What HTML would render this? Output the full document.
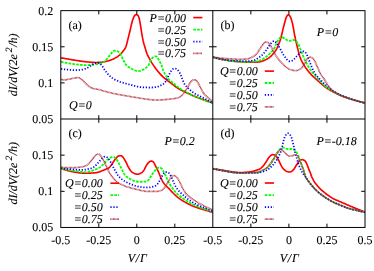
<!DOCTYPE html>
<html><head><meta charset="utf-8"><title>dI/dV vs V/Γ — four-panel chart</title>
<style>html,body{margin:0;padding:0;background:#fff;}body{width:374px;height:271px;overflow:hidden;position:relative;font-family:"Liberation Serif",serif;}</style>
</head><body>
<svg width="374" height="271" viewBox="0 0 374 271" style="position:absolute;left:0;top:0">
<defs>
<clipPath id="cpa"><rect x="60.8" y="10.65" width="152.0" height="108.35"/></clipPath>
<clipPath id="cpb"><rect x="212.8" y="10.65" width="152.2" height="108.35"/></clipPath>
<clipPath id="cpc"><rect x="60.8" y="119.0" width="152.0" height="108.44999999999999"/></clipPath>
<clipPath id="cpd"><rect x="212.8" y="119.0" width="152.2" height="108.44999999999999"/></clipPath>
</defs>
<g clip-path="url(#cpa)" fill="none" stroke-linecap="butt" stroke-linejoin="round">
<path d="M61.00,57.80 L61.50,57.89 L62.00,57.98 L62.50,58.08 L63.00,58.17 L63.50,58.26 L64.00,58.35 L64.50,58.44 L65.00,58.52 L65.50,58.61 L66.00,58.70 L66.50,58.79 L67.00,58.87 L67.50,58.96 L68.00,59.05 L68.50,59.14 L69.00,59.22 L69.50,59.31 L70.00,59.39 L70.50,59.48 L71.00,59.57 L71.50,59.65 L72.00,59.74 L72.50,59.82 L73.00,59.90 L73.50,59.99 L74.00,60.07 L74.50,60.15 L75.00,60.23 L75.50,60.31 L76.00,60.39 L76.50,60.47 L77.00,60.54 L77.50,60.62 L78.00,60.70 L78.50,60.78 L79.00,60.85 L79.50,60.93 L80.00,61.00 L80.50,61.08 L81.00,61.15 L81.50,61.23 L82.00,61.30 L82.50,61.37 L83.00,61.44 L83.50,61.50 L84.00,61.57 L84.50,61.63 L85.00,61.68 L85.50,61.74 L86.00,61.79 L86.50,61.85 L87.00,61.90 L87.50,61.95 L88.00,61.99 L88.50,62.04 L89.00,62.09 L89.50,62.13 L90.00,62.17 L90.50,62.22 L91.00,62.26 L91.50,62.30 L92.00,62.34 L92.50,62.37 L93.00,62.40 L93.50,62.42 L94.00,62.44 L94.50,62.45 L95.00,62.46 L95.50,62.47 L96.00,62.47 L96.50,62.46 L97.00,62.46 L97.50,62.45 L98.00,62.43 L98.50,62.42 L99.00,62.40 L99.50,62.38 L100.00,62.34 L100.50,62.30 L101.00,62.25 L101.50,62.20 L102.00,62.13 L102.50,62.06 L103.00,61.99 L103.50,61.91 L104.00,61.82 L104.50,61.73 L105.00,61.64 L105.50,61.54 L106.00,61.43 L106.50,61.32 L107.00,61.19 L107.50,61.06 L108.00,60.92 L108.50,60.77 L109.00,60.62 L109.50,60.46 L110.00,60.29 L110.50,60.12 L111.00,59.95 L111.50,59.76 L112.00,59.57 L112.50,59.36 L113.00,59.13 L113.50,58.89 L114.00,58.64 L114.50,58.38 L115.00,58.11 L115.50,57.84 L116.00,57.55 L116.50,57.26 L117.00,56.95 L117.50,56.62 L118.00,56.26 L118.50,55.88 L119.00,55.48 L119.50,55.06 L120.00,54.63 L120.50,54.18 L121.00,53.71 L121.50,53.18 L122.00,52.59 L122.50,51.95 L123.00,51.29 L123.50,50.61 L124.00,49.94 L124.50,49.30 L125.00,48.59 L125.50,47.69 L126.00,46.48 L126.50,44.84 L127.00,42.92 L127.50,40.90 L128.00,38.88 L128.50,36.86 L129.00,34.83 L129.50,32.80 L130.00,30.70 L130.50,28.53 L131.00,26.35 L131.50,24.22 L132.00,22.24 L132.50,20.52 L133.00,19.04 L133.50,17.76 L134.00,16.68 L134.50,15.86 L135.00,15.27 L135.50,14.89 L136.00,14.67 L136.50,14.60 L137.00,14.73 L137.50,15.03 L138.00,15.52 L138.50,16.42 L139.00,17.83 L139.50,19.82 L140.00,22.35 L140.50,25.35 L141.00,28.60 L141.50,31.79 L142.00,34.80 L142.50,37.69 L143.00,40.20 L143.50,42.28 L144.00,44.14 L144.50,45.84 L145.00,47.48 L145.50,49.13 L146.00,50.80 L146.50,52.40 L147.00,53.80 L147.50,54.92 L148.00,55.92 L148.50,56.87 L149.00,57.80 L149.50,58.73 L150.00,59.65 L150.50,60.57 L151.00,61.45 L151.50,62.31 L152.00,63.12 L152.50,63.90 L153.00,64.66 L153.50,65.40 L154.00,66.13 L154.50,66.84 L155.00,67.54 L155.50,68.23 L156.00,68.90 L156.50,69.56 L157.00,70.20 L157.50,70.83 L158.00,71.45 L158.50,72.06 L159.00,72.65 L159.50,73.23 L160.00,73.79 L160.50,74.34 L161.00,74.87 L161.50,75.40 L162.00,75.91 L162.50,76.40 L163.00,76.87 L163.50,77.32 L164.00,77.75 L164.50,78.16 L165.00,78.56 L165.50,78.96 L166.00,79.36 L166.50,79.75 L167.00,80.14 L167.50,80.52 L168.00,80.90 L168.50,81.27 L169.00,81.65 L169.50,82.02 L170.00,82.39 L170.50,82.76 L171.00,83.13 L171.50,83.50 L172.00,83.88 L172.50,84.27 L173.00,84.67 L173.50,85.07 L174.00,85.47 L174.50,85.86 L175.00,86.25 L175.50,86.63 L176.00,87.00 L176.50,87.35 L177.00,87.69 L177.50,88.02 L178.00,88.34 L178.50,88.64 L179.00,88.94 L179.50,89.23 L180.00,89.51 L180.50,89.78 L181.00,90.04 L181.50,90.30 L182.00,90.56 L182.50,90.80 L183.00,91.05 L183.50,91.29 L184.00,91.53 L184.50,91.76 L185.00,91.99 L185.50,92.23 L186.00,92.46 L186.50,92.69 L187.00,92.93 L187.50,93.16 L188.00,93.40 L188.50,93.63 L189.00,93.86 L189.50,94.10 L190.00,94.33 L190.50,94.56 L191.00,94.79 L191.50,95.02 L192.00,95.24 L192.50,95.46 L193.00,95.68 L193.50,95.90 L194.00,96.12 L194.50,96.33 L195.00,96.53 L195.50,96.73 L196.00,96.93 L196.50,97.12 L197.00,97.31 L197.50,97.50 L198.00,97.69 L198.50,97.88 L199.00,98.06 L199.50,98.25 L200.00,98.44 L200.50,98.63 L201.00,98.81 L201.50,99.00 L202.00,99.19 L202.50,99.37 L203.00,99.56 L203.50,99.74 L204.00,99.93 L204.50,100.11 L205.00,100.30 L205.50,100.48 L206.00,100.67 L206.50,100.85 L207.00,101.03 L207.50,101.22 L208.00,101.40 L208.50,101.58 L209.00,101.76 L209.50,101.94 L210.00,102.12 L210.50,102.30 L211.00,102.48 L211.50,102.66 L212.00,102.84 L212.50,103.02 L213.00,103.20" stroke="#ff0000" stroke-width="1.65"/>
<path d="M61.00,61.70 L61.50,61.82 L62.00,61.93 L62.50,62.04 L63.00,62.15 L63.50,62.26 L64.00,62.36 L64.50,62.47 L65.00,62.57 L65.50,62.67 L66.00,62.77 L66.50,62.87 L67.00,62.96 L67.50,63.05 L68.00,63.15 L68.50,63.24 L69.00,63.32 L69.50,63.41 L70.00,63.50 L70.50,63.58 L71.00,63.67 L71.50,63.75 L72.00,63.83 L72.50,63.91 L73.00,63.98 L73.50,64.05 L74.00,64.12 L74.50,64.19 L75.00,64.26 L75.50,64.32 L76.00,64.38 L76.50,64.44 L77.00,64.49 L77.50,64.55 L78.00,64.60 L78.50,64.65 L79.00,64.70 L79.50,64.75 L80.00,64.79 L80.50,64.83 L81.00,64.88 L81.50,64.92 L82.00,64.95 L82.50,64.98 L83.00,65.01 L83.50,65.03 L84.00,65.05 L84.50,65.06 L85.00,65.07 L85.50,65.08 L86.00,65.08 L86.50,65.08 L87.00,65.07 L87.50,65.06 L88.00,65.05 L88.50,65.04 L89.00,65.02 L89.50,65.00 L90.00,64.98 L90.50,64.96 L91.00,64.93 L91.50,64.90 L92.00,64.87 L92.50,64.82 L93.00,64.77 L93.50,64.71 L94.00,64.64 L94.50,64.56 L95.00,64.48 L95.50,64.40 L96.00,64.30 L96.50,64.21 L97.00,64.11 L97.50,64.01 L98.00,63.91 L98.50,63.80 L99.00,63.70 L99.50,63.59 L100.00,63.46 L100.50,63.31 L101.00,63.14 L101.50,62.95 L102.00,62.74 L102.50,62.50 L103.00,62.25 L103.50,61.96 L104.00,61.64 L104.50,61.27 L105.00,60.87 L105.50,60.43 L106.00,59.94 L106.50,59.40 L107.00,58.82 L107.50,58.20 L108.00,57.58 L108.50,56.95 L109.00,56.31 L109.50,55.68 L110.00,55.05 L110.50,54.43 L111.00,53.80 L111.50,53.18 L112.00,52.57 L112.50,51.97 L113.00,51.39 L113.50,50.99 L114.00,50.80 L114.50,50.74 L115.00,50.77 L115.50,50.80 L116.00,50.83 L116.50,50.92 L117.00,51.05 L117.50,51.25 L118.00,51.53 L118.50,51.90 L119.00,52.35 L119.50,52.90 L120.00,53.57 L120.50,54.35 L121.00,55.26 L121.50,56.25 L122.00,57.28 L122.50,58.32 L123.00,59.33 L123.50,60.27 L124.00,61.22 L124.50,62.16 L125.00,63.06 L125.50,63.91 L126.00,64.67 L126.50,65.32 L127.00,65.86 L127.50,66.30 L128.00,66.68 L128.50,67.00 L129.00,67.30 L129.50,67.59 L130.00,67.87 L130.50,68.15 L131.00,68.42 L131.50,68.69 L132.00,68.95 L132.50,69.20 L133.00,69.45 L133.50,69.69 L134.00,69.92 L134.50,70.14 L135.00,70.35 L135.50,70.54 L136.00,70.71 L136.50,70.87 L137.00,71.00 L137.50,71.09 L138.00,71.13 L138.50,71.12 L139.00,71.07 L139.50,70.98 L140.00,70.86 L140.50,70.71 L141.00,70.53 L141.50,70.33 L142.00,70.11 L142.50,69.88 L143.00,69.65 L143.50,69.40 L144.00,69.12 L144.50,68.82 L145.00,68.50 L145.50,68.16 L146.00,67.80 L146.50,67.42 L147.00,66.98 L147.50,66.49 L148.00,65.92 L148.50,65.26 L149.00,64.36 L149.50,63.25 L150.00,62.07 L150.50,60.96 L151.00,60.03 L151.50,59.25 L152.00,58.54 L152.50,57.93 L153.00,57.40 L153.50,56.98 L154.00,56.67 L154.50,56.47 L155.00,56.38 L155.50,56.39 L156.00,56.49 L156.50,56.69 L157.00,57.06 L157.50,57.63 L158.00,58.45 L158.50,59.35 L159.00,60.28 L159.50,61.23 L160.00,62.18 L160.50,63.15 L161.00,64.14 L161.50,65.16 L162.00,66.26 L162.50,68.33 L163.00,69.89 L163.50,71.06 L164.00,72.15 L164.50,73.17 L165.00,74.11 L165.50,74.97 L166.00,75.75 L166.50,76.52 L167.00,77.28 L167.50,78.02 L168.00,78.70 L168.50,79.30 L169.00,79.80 L169.50,80.23 L170.00,80.63 L170.50,81.01 L171.00,81.38 L171.50,81.75 L172.00,82.12 L172.50,82.50 L173.00,82.90 L173.50,83.31 L174.00,83.76 L174.50,84.24 L175.00,84.71 L175.50,85.18 L176.00,85.60 L176.50,85.99 L177.00,86.38 L177.50,86.75 L178.00,87.12 L178.50,87.48 L179.00,87.83 L179.50,88.18 L180.00,88.51 L180.50,88.84 L181.00,89.17 L181.50,89.48 L182.00,89.79 L182.50,90.09 L183.00,90.39 L183.50,90.68 L184.00,90.96 L184.50,91.24 L185.00,91.51 L185.50,91.78 L186.00,92.04 L186.50,92.30 L187.00,92.56 L187.50,92.82 L188.00,93.07 L188.50,93.33 L189.00,93.58 L189.50,93.83 L190.00,94.08 L190.50,94.33 L191.00,94.58 L191.50,94.82 L192.00,95.06 L192.50,95.29 L193.00,95.53 L193.50,95.75 L194.00,95.98 L194.50,96.20 L195.00,96.41 L195.50,96.62 L196.00,96.82 L196.50,97.02 L197.00,97.22 L197.50,97.41 L198.00,97.60 L198.50,97.79 L199.00,97.98 L199.50,98.18 L200.00,98.37 L200.50,98.56 L201.00,98.75 L201.50,98.94 L202.00,99.13 L202.50,99.32 L203.00,99.51 L203.50,99.70 L204.00,99.89 L204.50,100.08 L205.00,100.27 L205.50,100.45 L206.00,100.64 L206.50,100.83 L207.00,101.01 L207.50,101.20 L208.00,101.39 L208.50,101.57 L209.00,101.75 L209.50,101.94 L210.00,102.12 L210.50,102.30 L211.00,102.48 L211.50,102.66 L212.00,102.84 L212.50,103.02 L213.00,103.20" stroke="#00ff00" stroke-width="1.8" stroke-dasharray="2.65 1.2"/>
<path d="M61.00,68.80 L61.50,68.89 L62.00,68.98 L62.50,69.06 L63.00,69.14 L63.50,69.21 L64.00,69.28 L64.50,69.35 L65.00,69.41 L65.50,69.47 L66.00,69.53 L66.50,69.59 L67.00,69.64 L67.50,69.69 L68.00,69.73 L68.50,69.78 L69.00,69.82 L69.50,69.87 L70.00,69.91 L70.50,69.95 L71.00,69.98 L71.50,70.02 L72.00,70.05 L72.50,70.08 L73.00,70.10 L73.50,70.12 L74.00,70.14 L74.50,70.15 L75.00,70.15 L75.50,70.15 L76.00,70.14 L76.50,70.13 L77.00,70.12 L77.50,70.10 L78.00,70.08 L78.50,70.05 L79.00,70.01 L79.50,69.98 L80.00,69.93 L80.50,69.89 L81.00,69.83 L81.50,69.78 L82.00,69.70 L82.50,69.60 L83.00,69.48 L83.50,69.34 L84.00,69.18 L84.50,69.01 L85.00,68.83 L85.50,68.63 L86.00,68.43 L86.50,68.21 L87.00,67.98 L87.50,67.75 L88.00,67.50 L88.50,67.21 L89.00,66.90 L89.50,66.56 L90.00,66.22 L90.50,65.87 L91.00,65.51 L91.50,65.16 L92.00,64.82 L92.50,64.49 L93.00,64.18 L93.50,63.90 L94.00,63.65 L94.50,63.45 L95.00,63.28 L95.50,63.14 L96.00,63.03 L96.50,62.96 L97.00,62.92 L97.50,62.90 L98.00,62.92 L98.50,63.01 L99.00,63.17 L99.50,63.39 L100.00,63.70 L100.50,64.07 L101.00,64.53 L101.50,65.06 L102.00,65.68 L102.50,66.40 L103.00,67.18 L103.50,68.00 L104.00,68.83 L104.50,69.65 L105.00,70.43 L105.50,71.14 L106.00,71.78 L106.50,72.40 L107.00,73.01 L107.50,73.61 L108.00,74.19 L108.50,74.74 L109.00,75.26 L109.50,75.73 L110.00,76.17 L110.50,76.59 L111.00,76.99 L111.50,77.38 L112.00,77.76 L112.50,78.12 L113.00,78.46 L113.50,78.79 L114.00,79.10 L114.50,79.39 L115.00,79.66 L115.50,79.91 L116.00,80.15 L116.50,80.37 L117.00,80.60 L117.50,80.82 L118.00,81.04 L118.50,81.25 L119.00,81.46 L119.50,81.65 L120.00,81.85 L120.50,82.03 L121.00,82.20 L121.50,82.35 L122.00,82.50 L122.50,82.64 L123.00,82.78 L123.50,82.91 L124.00,83.05 L124.50,83.19 L125.00,83.32 L125.50,83.46 L126.00,83.60 L126.50,83.73 L127.00,83.87 L127.50,84.00 L128.00,84.14 L128.50,84.27 L129.00,84.41 L129.50,84.54 L130.00,84.67 L130.50,84.81 L131.00,84.94 L131.50,85.07 L132.00,85.21 L132.50,85.34 L133.00,85.47 L133.50,85.60 L134.00,85.73 L134.50,85.86 L135.00,85.99 L135.50,86.12 L136.00,86.25 L136.50,86.37 L137.00,86.50 L137.50,86.62 L138.00,86.73 L138.50,86.82 L139.00,86.91 L139.50,86.99 L140.00,87.06 L140.50,87.12 L141.00,87.17 L141.50,87.22 L142.00,87.26 L142.50,87.29 L143.00,87.32 L143.50,87.35 L144.00,87.37 L144.50,87.40 L145.00,87.42 L145.50,87.43 L146.00,87.45 L146.50,87.47 L147.00,87.49 L147.50,87.51 L148.00,87.53 L148.50,87.54 L149.00,87.55 L149.50,87.56 L150.00,87.56 L150.50,87.56 L151.00,87.54 L151.50,87.53 L152.00,87.51 L152.50,87.48 L153.00,87.44 L153.50,87.40 L154.00,87.35 L154.50,87.29 L155.00,87.22 L155.50,87.15 L156.00,87.06 L156.50,86.97 L157.00,86.87 L157.50,86.75 L158.00,86.60 L158.50,86.43 L159.00,86.22 L159.50,86.00 L160.00,85.77 L160.50,85.54 L161.00,85.30 L161.50,85.06 L162.00,84.79 L162.50,84.51 L163.00,84.19 L163.50,83.85 L164.00,83.46 L164.50,82.98 L165.00,82.39 L165.50,81.69 L166.00,80.86 L166.50,79.91 L167.00,78.91 L167.50,77.90 L168.00,76.90 L168.50,75.90 L169.00,74.92 L169.50,73.94 L170.00,72.96 L170.50,72.00 L171.00,71.13 L171.50,70.43 L172.00,69.87 L172.50,69.40 L173.00,69.04 L173.50,68.81 L174.00,68.67 L174.50,68.61 L175.00,68.59 L175.50,68.63 L176.00,68.74 L176.50,68.94 L177.00,69.25 L177.50,69.67 L178.00,70.23 L178.50,70.90 L179.00,71.67 L179.50,72.50 L180.00,73.38 L180.50,74.39 L181.00,75.61 L181.50,76.91 L182.00,78.22 L182.50,79.51 L183.00,80.78 L183.50,82.00 L184.00,83.09 L184.50,84.01 L185.00,84.79 L185.50,85.46 L186.00,86.06 L186.50,86.62 L187.00,87.16 L187.50,87.69 L188.00,88.20 L188.50,88.68 L189.00,89.15 L189.50,89.59 L190.00,90.01 L190.50,90.44 L191.00,90.86 L191.50,91.26 L192.00,91.64 L192.50,92.00 L193.00,92.34 L193.50,92.68 L194.00,93.01 L194.50,93.33 L195.00,93.64 L195.50,93.94 L196.00,94.22 L196.50,94.50 L197.00,94.75 L197.50,95.01 L198.00,95.27 L198.50,95.53 L199.00,95.78 L199.50,96.04 L200.00,96.29 L200.50,96.55 L201.00,96.80 L201.50,97.05 L202.00,97.30 L202.50,97.55 L203.00,97.80 L203.50,98.05 L204.00,98.30 L204.50,98.55 L205.00,98.80 L205.50,99.05 L206.00,99.30 L206.50,99.55 L207.00,99.80 L207.50,100.05 L208.00,100.30 L208.50,100.55 L209.00,100.80 L209.50,101.05 L210.00,101.30 L210.50,101.55 L211.00,101.80 L211.50,102.05 L212.00,102.30 L212.50,102.55 L213.00,102.80" stroke="#0000ff" stroke-width="1.75" stroke-dasharray="1.25 1.72"/>
<path d="M61.00,79.40 L61.50,79.51 L62.00,79.61 L62.50,79.71 L63.00,79.79 L63.50,79.86 L64.00,79.91 L64.50,79.93 L65.00,79.93 L65.50,79.90 L66.00,79.84 L66.50,79.74 L67.00,79.64 L67.50,79.53 L68.00,79.42 L68.50,79.31 L69.00,79.20 L69.50,79.09 L70.00,78.98 L70.50,78.87 L71.00,78.76 L71.50,78.66 L72.00,78.56 L72.50,78.46 L73.00,78.36 L73.50,78.26 L74.00,78.16 L74.50,78.07 L75.00,77.97 L75.50,77.88 L76.00,77.79 L76.50,77.70 L77.00,77.63 L77.50,77.62 L78.00,77.65 L78.50,77.74 L79.00,77.88 L79.50,78.08 L80.00,78.34 L80.50,78.65 L81.00,79.00 L81.50,79.37 L82.00,79.77 L82.50,80.20 L83.00,80.64 L83.50,81.11 L84.00,81.59 L84.50,82.09 L85.00,82.60 L85.50,83.11 L86.00,83.62 L86.50,84.11 L87.00,84.59 L87.50,85.06 L88.00,85.51 L88.50,85.94 L89.00,86.35 L89.50,86.73 L90.00,87.06 L90.50,87.37 L91.00,87.63 L91.50,87.87 L92.00,88.07 L92.50,88.25 L93.00,88.41 L93.50,88.55 L94.00,88.68 L94.50,88.79 L95.00,88.88 L95.50,88.96 L96.00,89.04 L96.50,89.11 L97.00,89.18 L97.50,89.27 L98.00,89.36 L98.50,89.47 L99.00,89.60 L99.50,89.75 L100.00,89.90 L100.50,90.05 L101.00,90.20 L101.50,90.34 L102.00,90.48 L102.50,90.62 L103.00,90.76 L103.50,90.91 L104.00,91.05 L104.50,91.19 L105.00,91.33 L105.50,91.47 L106.00,91.61 L106.50,91.75 L107.00,91.88 L107.50,92.02 L108.00,92.15 L108.50,92.29 L109.00,92.42 L109.50,92.54 L110.00,92.67 L110.50,92.79 L111.00,92.91 L111.50,93.03 L112.00,93.15 L112.50,93.26 L113.00,93.37 L113.50,93.47 L114.00,93.58 L114.50,93.68 L115.00,93.79 L115.50,93.89 L116.00,93.99 L116.50,94.08 L117.00,94.18 L117.50,94.28 L118.00,94.37 L118.50,94.46 L119.00,94.56 L119.50,94.65 L120.00,94.74 L120.50,94.83 L121.00,94.92 L121.50,95.01 L122.00,95.10 L122.50,95.19 L123.00,95.28 L123.50,95.37 L124.00,95.46 L124.50,95.55 L125.00,95.63 L125.50,95.72 L126.00,95.81 L126.50,95.90 L127.00,95.98 L127.50,96.07 L128.00,96.16 L128.50,96.25 L129.00,96.33 L129.50,96.42 L130.00,96.51 L130.50,96.59 L131.00,96.68 L131.50,96.76 L132.00,96.85 L132.50,96.94 L133.00,97.02 L133.50,97.11 L134.00,97.19 L134.50,97.28 L135.00,97.36 L135.50,97.45 L136.00,97.53 L136.50,97.62 L137.00,97.70 L137.50,97.78 L138.00,97.87 L138.50,97.95 L139.00,98.03 L139.50,98.11 L140.00,98.19 L140.50,98.27 L141.00,98.35 L141.50,98.42 L142.00,98.50 L142.50,98.57 L143.00,98.65 L143.50,98.72 L144.00,98.79 L144.50,98.86 L145.00,98.93 L145.50,99.00 L146.00,99.07 L146.50,99.14 L147.00,99.21 L147.50,99.28 L148.00,99.34 L148.50,99.41 L149.00,99.47 L149.50,99.54 L150.00,99.60 L150.50,99.65 L151.00,99.71 L151.50,99.76 L152.00,99.80 L152.50,99.84 L153.00,99.88 L153.50,99.91 L154.00,99.94 L154.50,99.96 L155.00,99.99 L155.50,100.00 L156.00,100.02 L156.50,100.02 L157.00,100.03 L157.50,100.03 L158.00,100.03 L158.50,100.02 L159.00,100.01 L159.50,99.99 L160.00,99.98 L160.50,99.95 L161.00,99.92 L161.50,99.89 L162.00,99.86 L162.50,99.82 L163.00,99.78 L163.50,99.74 L164.00,99.70 L164.50,99.65 L165.00,99.61 L165.50,99.56 L166.00,99.51 L166.50,99.46 L167.00,99.41 L167.50,99.35 L168.00,99.30 L168.50,99.24 L169.00,99.19 L169.50,99.13 L170.00,99.08 L170.50,99.02 L171.00,98.97 L171.50,98.91 L172.00,98.85 L172.50,98.79 L173.00,98.73 L173.50,98.66 L174.00,98.59 L174.50,98.52 L175.00,98.45 L175.50,98.38 L176.00,98.30 L176.50,98.21 L177.00,98.09 L177.50,97.95 L178.00,97.77 L178.50,97.57 L179.00,97.34 L179.50,97.09 L180.00,96.81 L180.50,96.50 L181.00,96.16 L181.50,95.76 L182.00,95.29 L182.50,94.76 L183.00,94.18 L183.50,93.55 L184.00,92.88 L184.50,92.17 L185.00,91.44 L185.50,90.69 L186.00,89.92 L186.50,89.13 L187.00,88.33 L187.50,87.50 L188.00,86.60 L188.50,85.68 L189.00,84.74 L189.50,83.82 L190.00,82.96 L190.50,82.20 L191.00,81.58 L191.50,81.08 L192.00,80.66 L192.50,80.30 L193.00,80.02 L193.50,79.85 L194.00,79.77 L194.50,79.78 L195.00,79.85 L195.50,79.99 L196.00,80.24 L196.50,80.65 L197.00,81.25 L197.50,82.04 L198.00,82.88 L198.50,83.76 L199.00,84.68 L199.50,85.62 L200.00,86.59 L200.50,87.61 L201.00,88.65 L201.50,89.67 L202.00,90.65 L202.50,91.55 L203.00,92.37 L203.50,93.11 L204.00,93.79 L204.50,94.39 L205.00,94.92 L205.50,95.39 L206.00,95.83 L206.50,96.27 L207.00,96.71 L207.50,97.14 L208.00,97.58 L208.50,98.02 L209.00,98.45 L209.50,98.89 L210.00,99.32 L210.50,99.75 L211.00,100.19 L211.50,100.61 L212.00,100.98 L212.50,101.18 L213.00,101.30" stroke="#b02234" stroke-width="1.7" stroke-dasharray="0.75 0.55"/>
</g>
<g clip-path="url(#cpb)" fill="none" stroke-linecap="butt" stroke-linejoin="round">
<path d="M213.00,57.20 L213.50,57.34 L214.00,57.47 L214.50,57.60 L215.00,57.73 L215.50,57.86 L216.00,57.99 L216.50,58.11 L217.00,58.23 L217.50,58.35 L218.00,58.47 L218.50,58.59 L219.00,58.71 L219.50,58.82 L220.00,58.93 L220.50,59.04 L221.00,59.15 L221.50,59.25 L222.00,59.36 L222.50,59.46 L223.00,59.56 L223.50,59.66 L224.00,59.76 L224.50,59.85 L225.00,59.94 L225.50,60.04 L226.00,60.13 L226.50,60.21 L227.00,60.30 L227.50,60.38 L228.00,60.47 L228.50,60.55 L229.00,60.62 L229.50,60.70 L230.00,60.77 L230.50,60.84 L231.00,60.91 L231.50,60.98 L232.00,61.04 L232.50,61.11 L233.00,61.17 L233.50,61.22 L234.00,61.28 L234.50,61.33 L235.00,61.38 L235.50,61.43 L236.00,61.48 L236.50,61.53 L237.00,61.57 L237.50,61.61 L238.00,61.65 L238.50,61.69 L239.00,61.73 L239.50,61.77 L240.00,61.80 L240.50,61.84 L241.00,61.87 L241.50,61.90 L242.00,61.92 L242.50,61.95 L243.00,61.98 L243.50,62.00 L244.00,62.02 L244.50,62.04 L245.00,62.06 L245.50,62.08 L246.00,62.09 L246.50,62.11 L247.00,62.12 L247.50,62.13 L248.00,62.14 L248.50,62.15 L249.00,62.16 L249.50,62.16 L250.00,62.17 L250.50,62.17 L251.00,62.18 L251.50,62.18 L252.00,62.19 L252.50,62.19 L253.00,62.20 L253.50,62.20 L254.00,62.20 L254.50,62.20 L255.00,62.19 L255.50,62.17 L256.00,62.15 L256.50,62.13 L257.00,62.10 L257.50,62.06 L258.00,62.02 L258.50,61.98 L259.00,61.92 L259.50,61.84 L260.00,61.74 L260.50,61.63 L261.00,61.50 L261.50,61.36 L262.00,61.20 L262.50,61.04 L263.00,60.86 L263.50,60.68 L264.00,60.49 L264.50,60.30 L265.00,60.10 L265.50,59.87 L266.00,59.62 L266.50,59.35 L267.00,59.06 L267.50,58.75 L268.00,58.43 L268.50,58.09 L269.00,57.73 L269.50,57.35 L270.00,56.96 L270.50,56.53 L271.00,56.06 L271.50,55.57 L272.00,55.04 L272.50,54.50 L273.00,53.93 L273.50,53.35 L274.00,52.76 L274.50,52.13 L275.00,51.46 L275.50,50.73 L276.00,49.95 L276.50,49.12 L277.00,48.21 L277.50,47.19 L278.00,46.03 L278.50,44.79 L279.00,43.50 L279.50,42.17 L280.00,40.75 L280.50,39.20 L281.00,37.46 L281.50,35.52 L282.00,33.46 L282.50,31.32 L283.00,29.18 L283.50,27.09 L284.00,25.12 L284.50,23.23 L285.00,21.42 L285.50,19.70 L286.00,18.10 L286.50,16.81 L287.00,15.91 L287.50,15.27 L288.00,14.89 L288.50,14.81 L289.00,15.03 L289.50,15.50 L290.00,16.19 L290.50,17.14 L291.00,18.37 L291.50,19.87 L292.00,21.63 L292.50,23.67 L293.00,25.99 L293.50,28.65 L294.00,31.53 L294.50,34.41 L295.00,37.05 L295.50,39.34 L296.00,41.53 L296.50,43.66 L297.00,45.76 L297.50,47.85 L298.00,49.91 L298.50,51.90 L299.00,53.79 L299.50,55.54 L300.00,57.08 L300.50,58.42 L301.00,59.60 L301.50,60.64 L302.00,61.60 L302.50,62.50 L303.00,63.38 L303.50,64.26 L304.00,65.12 L304.50,65.94 L305.00,66.73 L305.50,67.46 L306.00,68.15 L306.50,68.84 L307.00,69.51 L307.50,70.18 L308.00,70.82 L308.50,71.45 L309.00,72.06 L309.50,72.65 L310.00,73.24 L310.50,73.81 L311.00,74.37 L311.50,74.91 L312.00,75.42 L312.50,75.88 L313.00,76.34 L313.50,76.80 L314.00,77.25 L314.50,77.70 L315.00,78.14 L315.50,78.59 L316.00,79.04 L316.50,79.48 L317.00,79.93 L317.50,80.37 L318.00,80.81 L318.50,81.26 L319.00,81.70 L319.50,82.14 L320.00,82.58 L320.50,83.02 L321.00,83.46 L321.50,83.89 L322.00,84.33 L322.50,84.76 L323.00,85.19 L323.50,85.61 L324.00,86.04 L324.50,86.44 L325.00,86.84 L325.50,87.22 L326.00,87.59 L326.50,87.94 L327.00,88.29 L327.50,88.63 L328.00,88.95 L328.50,89.27 L329.00,89.58 L329.50,89.88 L330.00,90.18 L330.50,90.47 L331.00,90.75 L331.50,91.03 L332.00,91.30 L332.50,91.57 L333.00,91.83 L333.50,92.10 L334.00,92.36 L334.50,92.61 L335.00,92.87 L335.50,93.13 L336.00,93.38 L336.50,93.63 L337.00,93.87 L337.50,94.12 L338.00,94.35 L338.50,94.59 L339.00,94.82 L339.50,95.05 L340.00,95.27 L340.50,95.48 L341.00,95.70 L341.50,95.90 L342.00,96.10 L342.50,96.29 L343.00,96.48 L343.50,96.66 L344.00,96.83 L344.50,97.00 L345.00,97.17 L345.50,97.34 L346.00,97.51 L346.50,97.68 L347.00,97.84 L347.50,98.01 L348.00,98.17 L348.50,98.33 L349.00,98.49 L349.50,98.65 L350.00,98.81 L350.50,98.96 L351.00,99.11 L351.50,99.27 L352.00,99.42 L352.50,99.57 L353.00,99.71 L353.50,99.86 L354.00,100.00 L354.50,100.14 L355.00,100.28 L355.50,100.43 L356.00,100.57 L356.50,100.71 L357.00,100.85 L357.50,100.99 L358.00,101.13 L358.50,101.27 L359.00,101.41 L359.50,101.55 L360.00,101.68 L360.50,101.82 L361.00,101.95 L361.50,102.09 L362.00,102.22 L362.50,102.36 L363.00,102.49 L363.50,102.62 L364.00,102.75 L364.50,102.87 L365.00,103.00" stroke="#ff0000" stroke-width="1.65"/>
<path d="M213.00,57.20 L213.50,57.34 L214.00,57.47 L214.50,57.60 L215.00,57.73 L215.50,57.86 L216.00,57.98 L216.50,58.11 L217.00,58.23 L217.50,58.35 L218.00,58.47 L218.50,58.58 L219.00,58.70 L219.50,58.81 L220.00,58.92 L220.50,59.03 L221.00,59.14 L221.50,59.25 L222.00,59.35 L222.50,59.46 L223.00,59.56 L223.50,59.66 L224.00,59.76 L224.50,59.86 L225.00,59.95 L225.50,60.05 L226.00,60.14 L226.50,60.23 L227.00,60.32 L227.50,60.40 L228.00,60.49 L228.50,60.57 L229.00,60.64 L229.50,60.72 L230.00,60.79 L230.50,60.86 L231.00,60.93 L231.50,60.99 L232.00,61.06 L232.50,61.11 L233.00,61.17 L233.50,61.22 L234.00,61.27 L234.50,61.32 L235.00,61.36 L235.50,61.40 L236.00,61.44 L236.50,61.48 L237.00,61.51 L237.50,61.55 L238.00,61.58 L238.50,61.61 L239.00,61.63 L239.50,61.66 L240.00,61.68 L240.50,61.71 L241.00,61.73 L241.50,61.74 L242.00,61.76 L242.50,61.77 L243.00,61.79 L243.50,61.80 L244.00,61.81 L244.50,61.82 L245.00,61.82 L245.50,61.82 L246.00,61.82 L246.50,61.81 L247.00,61.81 L247.50,61.81 L248.00,61.80 L248.50,61.79 L249.00,61.78 L249.50,61.77 L250.00,61.75 L250.50,61.73 L251.00,61.71 L251.50,61.68 L252.00,61.65 L252.50,61.62 L253.00,61.59 L253.50,61.55 L254.00,61.51 L254.50,61.47 L255.00,61.42 L255.50,61.38 L256.00,61.33 L256.50,61.28 L257.00,61.21 L257.50,61.12 L258.00,61.00 L258.50,60.87 L259.00,60.71 L259.50,60.54 L260.00,60.36 L260.50,60.15 L261.00,59.93 L261.50,59.70 L262.00,59.46 L262.50,59.20 L263.00,58.93 L263.50,58.63 L264.00,58.31 L264.50,57.98 L265.00,57.63 L265.50,57.26 L266.00,56.88 L266.50,56.49 L267.00,56.09 L267.50,55.68 L268.00,55.26 L268.50,54.82 L269.00,54.35 L269.50,53.86 L270.00,53.36 L270.50,52.85 L271.00,52.34 L271.50,51.81 L272.00,51.29 L272.50,50.72 L273.00,50.10 L273.50,49.43 L274.00,48.70 L274.50,47.90 L275.00,47.04 L275.50,46.07 L276.00,44.50 L276.50,43.38 L277.00,42.35 L277.50,41.39 L278.00,40.53 L278.50,39.75 L279.00,39.03 L279.50,38.37 L280.00,37.81 L280.50,37.41 L281.00,37.21 L281.50,37.23 L282.00,37.32 L282.50,37.46 L283.00,37.65 L283.50,37.88 L284.00,38.13 L284.50,38.42 L285.00,38.74 L285.50,39.09 L286.00,39.44 L286.50,39.78 L287.00,40.09 L287.50,40.35 L288.00,40.54 L288.50,40.68 L289.00,40.77 L289.50,40.80 L290.00,40.79 L290.50,40.72 L291.00,40.58 L291.50,40.41 L292.00,40.24 L292.50,40.09 L293.00,40.00 L293.50,39.97 L294.00,40.00 L294.50,40.09 L295.00,40.26 L295.50,40.53 L296.00,40.95 L296.50,41.50 L297.00,42.13 L297.50,42.82 L298.00,43.58 L298.50,44.46 L299.00,45.52 L299.50,46.85 L300.00,48.25 L300.50,49.49 L301.00,50.72 L301.50,51.96 L302.00,53.20 L302.50,54.47 L303.00,55.76 L303.50,57.05 L304.00,58.30 L304.50,59.46 L305.00,60.52 L305.50,61.49 L306.00,62.42 L306.50,63.32 L307.00,64.22 L307.50,65.11 L308.00,65.98 L308.50,66.82 L309.00,67.63 L309.50,68.40 L310.00,69.14 L310.50,69.85 L311.00,70.54 L311.50,71.21 L312.00,71.85 L312.50,72.45 L313.00,73.03 L313.50,73.59 L314.00,74.15 L314.50,74.71 L315.00,75.26 L315.50,75.81 L316.00,76.36 L316.50,76.91 L317.00,77.45 L317.50,78.00 L318.00,78.55 L318.50,79.09 L319.00,79.63 L319.50,80.17 L320.00,80.71 L320.50,81.25 L321.00,81.78 L321.50,82.31 L322.00,82.84 L322.50,83.36 L323.00,83.88 L323.50,84.40 L324.00,84.91 L324.50,85.39 L325.00,85.86 L325.50,86.31 L326.00,86.74 L326.50,87.16 L327.00,87.55 L327.50,87.94 L328.00,88.31 L328.50,88.66 L329.00,89.01 L329.50,89.34 L330.00,89.66 L330.50,89.97 L331.00,90.27 L331.50,90.57 L332.00,90.86 L332.50,91.14 L333.00,91.42 L333.50,91.69 L334.00,91.96 L334.50,92.23 L335.00,92.50 L335.50,92.76 L336.00,93.02 L336.50,93.28 L337.00,93.54 L337.50,93.79 L338.00,94.04 L338.50,94.28 L339.00,94.52 L339.50,94.76 L340.00,94.99 L340.50,95.22 L341.00,95.44 L341.50,95.65 L342.00,95.86 L342.50,96.06 L343.00,96.26 L343.50,96.45 L344.00,96.64 L344.50,96.82 L345.00,97.00 L345.50,97.18 L346.00,97.36 L346.50,97.54 L347.00,97.71 L347.50,97.89 L348.00,98.06 L348.50,98.23 L349.00,98.41 L349.50,98.58 L350.00,98.74 L350.50,98.91 L351.00,99.07 L351.50,99.23 L352.00,99.39 L352.50,99.55 L353.00,99.70 L353.50,99.85 L354.00,100.00 L354.50,100.15 L355.00,100.29 L355.50,100.44 L356.00,100.58 L356.50,100.73 L357.00,100.87 L357.50,101.01 L358.00,101.15 L358.50,101.29 L359.00,101.43 L359.50,101.57 L360.00,101.71 L360.50,101.85 L361.00,101.98 L361.50,102.11 L362.00,102.24 L362.50,102.37 L363.00,102.50 L363.50,102.63 L364.00,102.76 L364.50,102.88 L365.00,103.00" stroke="#00ff00" stroke-width="1.8" stroke-dasharray="2.65 1.2"/>
<path d="M213.00,57.20 L213.50,57.35 L214.00,57.49 L214.50,57.64 L215.00,57.78 L215.50,57.92 L216.00,58.05 L216.50,58.19 L217.00,58.32 L217.50,58.44 L218.00,58.57 L218.50,58.69 L219.00,58.80 L219.50,58.91 L220.00,59.02 L220.50,59.13 L221.00,59.22 L221.50,59.32 L222.00,59.41 L222.50,59.49 L223.00,59.57 L223.50,59.64 L224.00,59.72 L224.50,59.79 L225.00,59.85 L225.50,59.92 L226.00,59.99 L226.50,60.05 L227.00,60.11 L227.50,60.17 L228.00,60.22 L228.50,60.28 L229.00,60.33 L229.50,60.38 L230.00,60.43 L230.50,60.48 L231.00,60.52 L231.50,60.56 L232.00,60.60 L232.50,60.64 L233.00,60.68 L233.50,60.71 L234.00,60.75 L234.50,60.78 L235.00,60.81 L235.50,60.84 L236.00,60.87 L236.50,60.90 L237.00,60.92 L237.50,60.95 L238.00,60.97 L238.50,61.00 L239.00,61.02 L239.50,61.04 L240.00,61.06 L240.50,61.08 L241.00,61.10 L241.50,61.12 L242.00,61.13 L242.50,61.14 L243.00,61.14 L243.50,61.15 L244.00,61.15 L244.50,61.15 L245.00,61.14 L245.50,61.14 L246.00,61.13 L246.50,61.12 L247.00,61.12 L247.50,61.11 L248.00,61.10 L248.50,61.09 L249.00,61.06 L249.50,61.03 L250.00,60.99 L250.50,60.94 L251.00,60.87 L251.50,60.80 L252.00,60.71 L252.50,60.62 L253.00,60.51 L253.50,60.39 L254.00,60.26 L254.50,60.11 L255.00,59.92 L255.50,59.70 L256.00,59.45 L256.50,59.17 L257.00,58.86 L257.50,58.54 L258.00,58.20 L258.50,57.85 L259.00,57.49 L259.50,57.13 L260.00,56.76 L260.50,56.38 L261.00,55.99 L261.50,55.57 L262.00,55.13 L262.50,54.66 L263.00,54.15 L263.50,53.60 L264.00,53.01 L264.50,52.39 L265.00,51.75 L265.50,51.09 L266.00,50.42 L266.50,49.73 L267.00,49.04 L267.50,48.33 L268.00,47.59 L268.50,46.83 L269.00,46.07 L269.50,45.31 L270.00,44.58 L270.50,43.90 L271.00,43.29 L271.50,42.76 L272.00,42.29 L272.50,41.85 L273.00,41.44 L273.50,41.15 L274.00,41.02 L274.50,41.10 L275.00,41.38 L275.50,41.79 L276.00,42.30 L276.50,42.83 L277.00,43.37 L277.50,44.00 L278.00,44.80 L278.50,45.72 L279.00,46.64 L279.50,47.56 L280.00,48.48 L280.50,49.40 L281.00,50.32 L281.50,51.25 L282.00,52.17 L282.50,53.09 L283.00,54.02 L283.50,54.90 L284.00,55.68 L284.50,56.40 L285.00,57.07 L285.50,57.73 L286.00,58.40 L286.50,59.02 L287.00,59.59 L287.50,60.12 L288.00,60.60 L288.50,60.98 L289.00,61.21 L289.50,61.32 L290.00,61.30 L290.50,61.22 L291.00,61.10 L291.50,60.94 L292.00,60.73 L292.50,60.47 L293.00,60.15 L293.50,59.76 L294.00,59.30 L294.50,58.78 L295.00,58.23 L295.50,57.67 L296.00,57.09 L296.50,56.52 L297.00,55.95 L297.50,55.41 L298.00,54.89 L298.50,54.38 L299.00,53.89 L299.50,53.40 L300.00,52.93 L300.50,52.47 L301.00,52.03 L301.50,51.71 L302.00,51.50 L302.50,51.38 L303.00,51.32 L303.50,51.30 L304.00,51.41 L304.50,51.66 L305.00,52.05 L305.50,52.60 L306.00,53.27 L306.50,54.07 L307.00,55.05 L307.50,56.26 L308.00,57.55 L308.50,58.85 L309.00,60.14 L309.50,61.43 L310.00,62.71 L310.50,63.99 L311.00,65.25 L311.50,66.47 L312.00,67.64 L312.50,68.77 L313.00,69.83 L313.50,70.82 L314.00,71.76 L314.50,72.66 L315.00,73.52 L315.50,74.31 L316.00,75.02 L316.50,75.63 L317.00,76.20 L317.50,76.75 L318.00,77.28 L318.50,77.80 L319.00,78.31 L319.50,78.82 L320.00,79.32 L320.50,79.83 L321.00,80.33 L321.50,80.83 L322.00,81.33 L322.50,81.82 L323.00,82.31 L323.50,82.80 L324.00,83.28 L324.50,83.76 L325.00,84.24 L325.50,84.71 L326.00,85.17 L326.50,85.63 L327.00,86.07 L327.50,86.51 L328.00,86.94 L328.50,87.37 L329.00,87.78 L329.50,88.18 L330.00,88.58 L330.50,88.96 L331.00,89.34 L331.50,89.71 L332.00,90.06 L332.50,90.41 L333.00,90.75 L333.50,91.07 L334.00,91.39 L334.50,91.70 L335.00,92.00 L335.50,92.30 L336.00,92.59 L336.50,92.87 L337.00,93.15 L337.50,93.43 L338.00,93.69 L338.50,93.95 L339.00,94.21 L339.50,94.46 L340.00,94.70 L340.50,94.94 L341.00,95.17 L341.50,95.40 L342.00,95.62 L342.50,95.83 L343.00,96.04 L343.50,96.24 L344.00,96.44 L344.50,96.63 L345.00,96.83 L345.50,97.02 L346.00,97.21 L346.50,97.40 L347.00,97.59 L347.50,97.78 L348.00,97.97 L348.50,98.15 L349.00,98.33 L349.50,98.51 L350.00,98.69 L350.50,98.86 L351.00,99.03 L351.50,99.20 L352.00,99.37 L352.50,99.53 L353.00,99.69 L353.50,99.85 L354.00,100.00 L354.50,100.15 L355.00,100.30 L355.50,100.45 L356.00,100.60 L356.50,100.74 L357.00,100.89 L357.50,101.03 L358.00,101.18 L358.50,101.32 L359.00,101.46 L359.50,101.60 L360.00,101.74 L360.50,101.87 L361.00,102.00 L361.50,102.14 L362.00,102.27 L362.50,102.39 L363.00,102.52 L363.50,102.64 L364.00,102.76 L364.50,102.88 L365.00,103.00" stroke="#0000ff" stroke-width="1.75" stroke-dasharray="1.25 1.72"/>
<path d="M213.00,57.00 L213.50,57.09 L214.00,57.17 L214.50,57.25 L215.00,57.33 L215.50,57.41 L216.00,57.49 L216.50,57.56 L217.00,57.64 L217.50,57.71 L218.00,57.77 L218.50,57.84 L219.00,57.89 L219.50,57.95 L220.00,58.00 L220.50,58.05 L221.00,58.10 L221.50,58.14 L222.00,58.19 L222.50,58.23 L223.00,58.27 L223.50,58.32 L224.00,58.36 L224.50,58.40 L225.00,58.44 L225.50,58.48 L226.00,58.52 L226.50,58.56 L227.00,58.60 L227.50,58.64 L228.00,58.68 L228.50,58.71 L229.00,58.75 L229.50,58.79 L230.00,58.83 L230.50,58.86 L231.00,58.90 L231.50,58.93 L232.00,58.97 L232.50,59.00 L233.00,59.03 L233.50,59.07 L234.00,59.10 L234.50,59.13 L235.00,59.16 L235.50,59.18 L236.00,59.21 L236.50,59.22 L237.00,59.24 L237.50,59.26 L238.00,59.27 L238.50,59.28 L239.00,59.28 L239.50,59.29 L240.00,59.30 L240.50,59.30 L241.00,59.30 L241.50,59.30 L242.00,59.28 L242.50,59.26 L243.00,59.23 L243.50,59.20 L244.00,59.17 L244.50,59.13 L245.00,59.10 L245.50,59.06 L246.00,59.01 L246.50,58.94 L247.00,58.87 L247.50,58.79 L248.00,58.70 L248.50,58.59 L249.00,58.46 L249.50,58.30 L250.00,58.11 L250.50,57.90 L251.00,57.67 L251.50,57.42 L252.00,57.16 L252.50,56.89 L253.00,56.61 L253.50,56.33 L254.00,56.03 L254.50,55.70 L255.00,55.34 L255.50,54.94 L256.00,54.47 L256.50,53.93 L257.00,53.32 L257.50,52.61 L258.00,51.88 L258.50,51.14 L259.00,50.40 L259.50,49.65 L260.00,48.90 L260.50,48.15 L261.00,47.40 L261.50,46.63 L262.00,45.87 L262.50,45.11 L263.00,44.35 L263.50,43.60 L264.00,42.98 L264.50,42.57 L265.00,42.32 L265.50,42.19 L266.00,42.11 L266.50,42.07 L267.00,42.11 L267.50,42.25 L268.00,42.51 L268.50,42.90 L269.00,43.43 L269.50,44.03 L270.00,44.72 L270.50,45.48 L271.00,46.33 L271.50,47.27 L272.00,48.28 L272.50,49.31 L273.00,50.35 L273.50,51.34 L274.00,52.26 L274.50,53.17 L275.00,54.06 L275.50,54.93 L276.00,55.75 L276.50,56.52 L277.00,57.24 L277.50,57.91 L278.00,58.56 L278.50,59.19 L279.00,59.79 L279.50,60.38 L280.00,60.96 L280.50,61.53 L281.00,62.09 L281.50,62.64 L282.00,63.19 L282.50,63.72 L283.00,64.25 L283.50,64.76 L284.00,65.26 L284.50,65.74 L285.00,66.20 L285.50,66.64 L286.00,67.04 L286.50,67.41 L287.00,67.76 L287.50,68.08 L288.00,68.38 L288.50,68.66 L289.00,68.92 L289.50,69.17 L290.00,69.40 L290.50,69.62 L291.00,69.81 L291.50,69.98 L292.00,70.12 L292.50,70.25 L293.00,70.36 L293.50,70.44 L294.00,70.51 L294.50,70.56 L295.00,70.59 L295.50,70.60 L296.00,70.58 L296.50,70.52 L297.00,70.42 L297.50,70.30 L298.00,70.14 L298.50,69.95 L299.00,69.74 L299.50,69.50 L300.00,69.23 L300.50,68.90 L301.00,68.51 L301.50,68.05 L302.00,67.51 L302.50,66.86 L303.00,66.15 L303.50,65.38 L304.00,64.57 L304.50,63.74 L305.00,62.90 L305.50,61.99 L306.00,61.01 L306.50,60.05 L307.00,59.20 L307.50,58.55 L308.00,58.10 L308.50,57.79 L309.00,57.55 L309.50,57.34 L310.00,57.22 L310.50,57.19 L311.00,57.24 L311.50,57.38 L312.00,57.61 L312.50,57.97 L313.00,58.46 L313.50,59.10 L314.00,59.84 L314.50,60.69 L315.00,61.66 L315.50,62.74 L316.00,63.85 L316.50,64.97 L317.00,66.09 L317.50,67.23 L318.00,68.38 L318.50,69.54 L319.00,70.69 L319.50,71.82 L320.00,72.88 L320.50,73.84 L321.00,74.71 L321.50,75.50 L322.00,76.20 L322.50,76.82 L323.00,77.41 L323.50,78.06 L324.00,78.79 L324.50,79.57 L325.00,80.39 L325.50,81.23 L326.00,82.09 L326.50,82.93 L327.00,83.76 L327.50,84.56 L328.00,85.31 L328.50,86.00 L329.00,86.64 L329.50,87.25 L330.00,87.84 L330.50,88.40 L331.00,88.93 L331.50,89.43 L332.00,89.91 L332.50,90.36 L333.00,90.79 L333.50,91.20 L334.00,91.58 L334.50,91.94 L335.00,92.28 L335.50,92.59 L336.00,92.89 L336.50,93.16 L337.00,93.44 L337.50,93.71 L338.00,93.98 L338.50,94.24 L339.00,94.50 L339.50,94.75 L340.00,95.00 L340.50,95.24 L341.00,95.48 L341.50,95.70 L342.00,95.92 L342.50,96.13 L343.00,96.33 L343.50,96.52 L344.00,96.70 L344.50,96.87 L345.00,97.05 L345.50,97.22 L346.00,97.39 L346.50,97.57 L347.00,97.74 L347.50,97.91 L348.00,98.08 L348.50,98.25 L349.00,98.42 L349.50,98.59 L350.00,98.76 L350.50,98.92 L351.00,99.08 L351.50,99.24 L352.00,99.40 L352.50,99.55 L353.00,99.70 L353.50,99.85 L354.00,100.00 L354.50,100.14 L355.00,100.29 L355.50,100.43 L356.00,100.58 L356.50,100.72 L357.00,100.86 L357.50,101.00 L358.00,101.14 L358.50,101.28 L359.00,101.42 L359.50,101.56 L360.00,101.70 L360.50,101.84 L361.00,101.97 L361.50,102.10 L362.00,102.24 L362.50,102.37 L363.00,102.50 L363.50,102.63 L364.00,102.75 L364.50,102.88 L365.00,103.00" stroke="#b02234" stroke-width="1.7" stroke-dasharray="0.75 0.55"/>
</g>
<g clip-path="url(#cpc)" fill="none" stroke-linecap="butt" stroke-linejoin="round">
<path d="M61.00,168.70 L61.50,168.85 L62.00,168.99 L62.50,169.13 L63.00,169.27 L63.50,169.41 L64.00,169.54 L64.50,169.68 L65.00,169.81 L65.50,169.95 L66.00,170.08 L66.50,170.21 L67.00,170.34 L67.50,170.47 L68.00,170.60 L68.50,170.73 L69.00,170.86 L69.50,170.98 L70.00,171.11 L70.50,171.23 L71.00,171.35 L71.50,171.47 L72.00,171.58 L72.50,171.69 L73.00,171.80 L73.50,171.91 L74.00,172.01 L74.50,172.11 L75.00,172.20 L75.50,172.29 L76.00,172.37 L76.50,172.45 L77.00,172.52 L77.50,172.58 L78.00,172.65 L78.50,172.71 L79.00,172.76 L79.50,172.82 L80.00,172.87 L80.50,172.92 L81.00,172.97 L81.50,173.02 L82.00,173.07 L82.50,173.11 L83.00,173.14 L83.50,173.17 L84.00,173.20 L84.50,173.22 L85.00,173.24 L85.50,173.25 L86.00,173.25 L86.50,173.25 L87.00,173.24 L87.50,173.24 L88.00,173.22 L88.50,173.21 L89.00,173.19 L89.50,173.16 L90.00,173.14 L90.50,173.11 L91.00,173.08 L91.50,173.05 L92.00,173.02 L92.50,172.99 L93.00,172.95 L93.50,172.92 L94.00,172.88 L94.50,172.84 L95.00,172.79 L95.50,172.74 L96.00,172.67 L96.50,172.60 L97.00,172.51 L97.50,172.40 L98.00,172.28 L98.50,172.14 L99.00,171.98 L99.50,171.80 L100.00,171.61 L100.50,171.41 L101.00,171.21 L101.50,171.01 L102.00,170.81 L102.50,170.60 L103.00,170.40 L103.50,170.19 L104.00,169.99 L104.50,169.78 L105.00,169.58 L105.50,169.38 L106.00,169.18 L106.50,168.99 L107.00,168.79 L107.50,168.60 L108.00,168.40 L108.50,168.13 L109.00,167.74 L109.50,167.26 L110.00,166.70 L110.50,166.08 L111.00,165.42 L111.50,164.74 L112.00,164.03 L112.50,163.28 L113.00,162.50 L113.50,161.71 L114.00,160.93 L114.50,160.18 L115.00,159.49 L115.50,158.83 L116.00,158.21 L116.50,157.64 L117.00,157.10 L117.50,156.61 L118.00,156.24 L118.50,155.98 L119.00,155.82 L119.50,155.73 L120.00,155.70 L120.50,155.71 L121.00,155.80 L121.50,155.96 L122.00,156.24 L122.50,156.65 L123.00,157.20 L123.50,157.87 L124.00,158.61 L124.50,159.42 L125.00,160.29 L125.50,161.21 L126.00,162.19 L126.50,163.22 L127.00,164.27 L127.50,165.31 L128.00,166.31 L128.50,167.24 L129.00,168.13 L129.50,168.97 L130.00,169.74 L130.50,170.44 L131.00,171.06 L131.50,171.59 L132.00,172.04 L132.50,172.43 L133.00,172.76 L133.50,173.05 L134.00,173.30 L134.50,173.52 L135.00,173.72 L135.50,173.88 L136.00,174.02 L136.50,174.11 L137.00,174.18 L137.50,174.20 L138.00,174.18 L138.50,174.10 L139.00,173.98 L139.50,173.81 L140.00,173.61 L140.50,173.37 L141.00,173.10 L141.50,172.80 L142.00,172.44 L142.50,172.00 L143.00,171.47 L143.50,170.84 L144.00,170.08 L144.50,169.15 L145.00,168.13 L145.50,167.10 L146.00,166.14 L146.50,165.31 L147.00,164.53 L147.50,163.80 L148.00,163.15 L148.50,162.61 L149.00,162.15 L149.50,161.75 L150.00,161.44 L150.50,161.23 L151.00,161.12 L151.50,161.10 L152.00,161.17 L152.50,161.34 L153.00,161.67 L153.50,162.16 L154.00,162.87 L154.50,163.79 L155.00,164.81 L155.50,165.86 L156.00,166.90 L156.50,167.89 L157.00,168.83 L157.50,169.80 L158.00,170.84 L158.50,172.00 L159.00,173.23 L159.50,174.48 L160.00,175.70 L160.50,176.85 L161.00,177.97 L161.50,179.06 L162.00,180.10 L162.50,181.06 L163.00,181.94 L163.50,182.73 L164.00,183.46 L164.50,184.12 L165.00,184.72 L165.50,185.28 L166.00,185.80 L166.50,186.30 L167.00,186.78 L167.50,187.25 L168.00,187.73 L168.50,188.20 L169.00,188.69 L169.50,189.20 L170.00,189.72 L170.50,190.27 L171.00,190.83 L171.50,191.38 L172.00,191.94 L172.50,192.48 L173.00,193.00 L173.50,193.50 L174.00,193.99 L174.50,194.48 L175.00,194.94 L175.50,195.40 L176.00,195.85 L176.50,196.28 L177.00,196.71 L177.50,197.12 L178.00,197.52 L178.50,197.91 L179.00,198.28 L179.50,198.65 L180.00,199.00 L180.50,199.34 L181.00,199.68 L181.50,200.01 L182.00,200.33 L182.50,200.64 L183.00,200.95 L183.50,201.26 L184.00,201.55 L184.50,201.84 L185.00,202.12 L185.50,202.40 L186.00,202.67 L186.50,202.94 L187.00,203.20 L187.50,203.46 L188.00,203.71 L188.50,203.97 L189.00,204.23 L189.50,204.48 L190.00,204.73 L190.50,204.97 L191.00,205.21 L191.50,205.44 L192.00,205.67 L192.50,205.89 L193.00,206.10 L193.50,206.31 L194.00,206.50 L194.50,206.69 L195.00,206.87 L195.50,207.06 L196.00,207.24 L196.50,207.41 L197.00,207.59 L197.50,207.76 L198.00,207.93 L198.50,208.10 L199.00,208.27 L199.50,208.43 L200.00,208.59 L200.50,208.75 L201.00,208.90 L201.50,209.05 L202.00,209.20 L202.50,209.35 L203.00,209.49 L203.50,209.64 L204.00,209.78 L204.50,209.93 L205.00,210.07 L205.50,210.22 L206.00,210.36 L206.50,210.51 L207.00,210.66 L207.50,210.81 L208.00,210.97 L208.50,211.13 L209.00,211.28 L209.50,211.44 L210.00,211.60 L210.50,211.77 L211.00,211.93 L211.50,212.10 L212.00,212.26 L212.50,212.43 L213.00,212.60" stroke="#ff0000" stroke-width="1.65"/>
<path d="M61.00,168.60 L61.50,168.70 L62.00,168.80 L62.50,168.90 L63.00,168.99 L63.50,169.09 L64.00,169.19 L64.50,169.28 L65.00,169.37 L65.50,169.46 L66.00,169.55 L66.50,169.64 L67.00,169.73 L67.50,169.82 L68.00,169.90 L68.50,169.98 L69.00,170.06 L69.50,170.15 L70.00,170.23 L70.50,170.31 L71.00,170.39 L71.50,170.46 L72.00,170.54 L72.50,170.62 L73.00,170.70 L73.50,170.77 L74.00,170.85 L74.50,170.92 L75.00,171.00 L75.50,171.07 L76.00,171.15 L76.50,171.22 L77.00,171.29 L77.50,171.36 L78.00,171.44 L78.50,171.51 L79.00,171.58 L79.50,171.65 L80.00,171.72 L80.50,171.79 L81.00,171.86 L81.50,171.93 L82.00,171.99 L82.50,172.06 L83.00,172.11 L83.50,172.16 L84.00,172.20 L84.50,172.22 L85.00,172.21 L85.50,172.18 L86.00,172.13 L86.50,172.06 L87.00,171.97 L87.50,171.87 L88.00,171.76 L88.50,171.64 L89.00,171.51 L89.50,171.38 L90.00,171.25 L90.50,171.12 L91.00,170.98 L91.50,170.84 L92.00,170.69 L92.50,170.53 L93.00,170.37 L93.50,170.20 L94.00,170.02 L94.50,169.84 L95.00,169.65 L95.50,169.46 L96.00,169.26 L96.50,169.06 L97.00,168.85 L97.50,168.62 L98.00,168.38 L98.50,168.13 L99.00,167.85 L99.50,167.55 L100.00,167.23 L100.50,166.88 L101.00,166.50 L101.50,166.09 L102.00,165.64 L102.50,165.17 L103.00,164.67 L103.50,164.16 L104.00,163.64 L104.50,163.11 L105.00,162.57 L105.50,161.99 L106.00,161.39 L106.50,160.77 L107.00,160.17 L107.50,159.61 L108.00,159.11 L108.50,158.69 L109.00,158.34 L109.50,158.04 L110.00,157.79 L110.50,157.57 L111.00,157.36 L111.50,157.19 L112.00,157.07 L112.50,157.01 L113.00,156.99 L113.50,157.02 L114.00,157.13 L114.50,157.34 L115.00,157.65 L115.50,158.08 L116.00,158.63 L116.50,159.26 L117.00,159.96 L117.50,160.75 L118.00,161.63 L118.50,162.60 L119.00,163.62 L119.50,164.64 L120.00,165.67 L120.50,166.69 L121.00,167.70 L121.50,168.71 L122.00,169.72 L122.50,170.72 L123.00,171.72 L123.50,172.70 L124.00,173.61 L124.50,174.40 L125.00,175.07 L125.50,175.63 L126.00,176.11 L126.50,176.53 L127.00,176.93 L127.50,177.30 L128.00,177.65 L128.50,177.97 L129.00,178.29 L129.50,178.59 L130.00,178.90 L130.50,179.19 L131.00,179.48 L131.50,179.75 L132.00,180.00 L132.50,180.23 L133.00,180.45 L133.50,180.64 L134.00,180.82 L134.50,180.99 L135.00,181.13 L135.50,181.27 L136.00,181.39 L136.50,181.50 L137.00,181.60 L137.50,181.69 L138.00,181.75 L138.50,181.79 L139.00,181.82 L139.50,181.84 L140.00,181.84 L140.50,181.83 L141.00,181.81 L141.50,181.79 L142.00,181.76 L142.50,181.73 L143.00,181.70 L143.50,181.68 L144.00,181.68 L144.50,181.68 L145.00,181.67 L145.50,181.63 L146.00,181.54 L146.50,181.39 L147.00,181.17 L147.50,180.87 L148.00,180.45 L148.50,179.92 L149.00,179.28 L149.50,178.57 L150.00,177.81 L150.50,177.03 L151.00,176.23 L151.50,175.45 L152.00,174.69 L152.50,173.97 L153.00,173.26 L153.50,172.55 L154.00,171.84 L154.50,171.15 L155.00,170.47 L155.50,169.82 L156.00,169.29 L156.50,168.86 L157.00,168.49 L157.50,168.16 L158.00,167.88 L158.50,167.70 L159.00,167.61 L159.50,167.61 L160.00,167.68 L160.50,167.82 L161.00,168.05 L161.50,168.39 L162.00,168.89 L162.50,169.57 L163.00,170.43 L163.50,171.35 L164.00,172.31 L164.50,173.32 L165.00,174.36 L165.50,175.43 L166.00,176.55 L166.50,177.68 L167.00,178.82 L167.50,179.93 L168.00,181.00 L168.50,182.01 L169.00,182.97 L169.50,183.88 L170.00,184.73 L170.50,185.54 L171.00,186.29 L171.50,186.97 L172.00,187.60 L172.50,188.21 L173.00,188.84 L173.50,189.51 L174.00,190.33 L174.50,191.12 L175.00,191.71 L175.50,192.26 L176.00,192.78 L176.50,193.28 L177.00,193.75 L177.50,194.20 L178.00,194.63 L178.50,195.05 L179.00,195.44 L179.50,195.83 L180.00,196.20 L180.50,196.57 L181.00,196.94 L181.50,197.31 L182.00,197.68 L182.50,198.04 L183.00,198.41 L183.50,198.77 L184.00,199.12 L184.50,199.47 L185.00,199.81 L185.50,200.15 L186.00,200.48 L186.50,200.79 L187.00,201.10 L187.50,201.40 L188.00,201.70 L188.50,202.00 L189.00,202.29 L189.50,202.58 L190.00,202.87 L190.50,203.15 L191.00,203.42 L191.50,203.69 L192.00,203.95 L192.50,204.20 L193.00,204.44 L193.50,204.68 L194.00,204.90 L194.50,205.12 L195.00,205.33 L195.50,205.54 L196.00,205.75 L196.50,205.96 L197.00,206.16 L197.50,206.36 L198.00,206.56 L198.50,206.76 L199.00,206.95 L199.50,207.14 L200.00,207.33 L200.50,207.52 L201.00,207.70 L201.50,207.88 L202.00,208.06 L202.50,208.24 L203.00,208.42 L203.50,208.61 L204.00,208.79 L204.50,208.97 L205.00,209.15 L205.50,209.32 L206.00,209.50 L206.50,209.68 L207.00,209.86 L207.50,210.03 L208.00,210.21 L208.50,210.38 L209.00,210.56 L209.50,210.73 L210.00,210.90 L210.50,211.07 L211.00,211.24 L211.50,211.41 L212.00,211.57 L212.50,211.74 L213.00,211.90" stroke="#00ff00" stroke-width="1.8" stroke-dasharray="2.65 1.2"/>
<path d="M61.00,168.10 L61.50,168.16 L62.00,168.22 L62.50,168.28 L63.00,168.34 L63.50,168.40 L64.00,168.45 L64.50,168.51 L65.00,168.57 L65.50,168.62 L66.00,168.68 L66.50,168.73 L67.00,168.79 L67.50,168.84 L68.00,168.90 L68.50,168.95 L69.00,169.01 L69.50,169.06 L70.00,169.11 L70.50,169.16 L71.00,169.21 L71.50,169.26 L72.00,169.31 L72.50,169.36 L73.00,169.41 L73.50,169.46 L74.00,169.51 L74.50,169.55 L75.00,169.60 L75.50,169.64 L76.00,169.68 L76.50,169.72 L77.00,169.75 L77.50,169.78 L78.00,169.81 L78.50,169.83 L79.00,169.86 L79.50,169.88 L80.00,169.90 L80.50,169.92 L81.00,169.92 L81.50,169.92 L82.00,169.91 L82.50,169.89 L83.00,169.86 L83.50,169.83 L84.00,169.80 L84.50,169.76 L85.00,169.69 L85.50,169.62 L86.00,169.53 L86.50,169.43 L87.00,169.32 L87.50,169.21 L88.00,169.09 L88.50,168.97 L89.00,168.85 L89.50,168.73 L90.00,168.60 L90.50,168.47 L91.00,168.32 L91.50,168.15 L92.00,167.96 L92.50,167.75 L93.00,167.50 L93.50,167.23 L94.00,166.91 L94.50,166.55 L95.00,166.14 L95.50,165.69 L96.00,165.19 L96.50,164.67 L97.00,164.12 L97.50,163.56 L98.00,162.99 L98.50,162.40 L99.00,161.80 L99.50,161.19 L100.00,160.59 L100.50,160.00 L101.00,159.44 L101.50,158.91 L102.00,158.41 L102.50,157.94 L103.00,157.49 L103.50,157.10 L104.00,156.83 L104.50,156.69 L105.00,156.64 L105.50,156.67 L106.00,156.77 L106.50,156.95 L107.00,157.23 L107.50,157.62 L108.00,158.13 L108.50,158.76 L109.00,159.45 L109.50,160.19 L110.00,160.98 L110.50,161.84 L111.00,162.78 L111.50,163.76 L112.00,164.76 L112.50,165.76 L113.00,166.73 L113.50,167.67 L114.00,168.59 L114.50,169.50 L115.00,170.40 L115.50,171.29 L116.00,172.18 L116.50,173.04 L117.00,173.88 L117.50,174.67 L118.00,175.42 L118.50,176.10 L119.00,176.70 L119.50,177.22 L120.00,177.69 L120.50,178.12 L121.00,178.53 L121.50,178.95 L122.00,179.36 L122.50,179.75 L123.00,180.13 L123.50,180.48 L124.00,180.80 L124.50,181.10 L125.00,181.39 L125.50,181.67 L126.00,181.95 L126.50,182.21 L127.00,182.47 L127.50,182.72 L128.00,182.96 L128.50,183.19 L129.00,183.42 L129.50,183.64 L130.00,183.86 L130.50,184.07 L131.00,184.27 L131.50,184.47 L132.00,184.67 L132.50,184.86 L133.00,185.05 L133.50,185.22 L134.00,185.40 L134.50,185.56 L135.00,185.73 L135.50,185.88 L136.00,186.03 L136.50,186.17 L137.00,186.30 L137.50,186.42 L138.00,186.54 L138.50,186.64 L139.00,186.74 L139.50,186.83 L140.00,186.91 L140.50,186.98 L141.00,187.05 L141.50,187.11 L142.00,187.17 L142.50,187.21 L143.00,187.26 L143.50,187.30 L144.00,187.33 L144.50,187.37 L145.00,187.40 L145.50,187.42 L146.00,187.45 L146.50,187.47 L147.00,187.49 L147.50,187.51 L148.00,187.51 L148.50,187.48 L149.00,187.45 L149.50,187.39 L150.00,187.32 L150.50,187.24 L151.00,187.14 L151.50,187.04 L152.00,186.93 L152.50,186.82 L153.00,186.70 L153.50,186.57 L154.00,186.42 L154.50,186.25 L155.00,186.03 L155.50,185.76 L156.00,185.44 L156.50,185.05 L157.00,184.58 L157.50,184.03 L158.00,183.39 L158.50,182.63 L159.00,181.77 L159.50,180.83 L160.00,179.85 L160.50,178.87 L161.00,177.93 L161.50,177.06 L162.00,176.22 L162.50,175.39 L163.00,174.60 L163.50,173.86 L164.00,173.17 L164.50,172.66 L165.00,172.34 L165.50,172.17 L166.00,172.11 L166.50,172.10 L167.00,172.14 L167.50,172.24 L168.00,172.43 L168.50,172.72 L169.00,173.13 L169.50,173.67 L170.00,174.36 L170.50,175.18 L171.00,176.12 L171.50,177.17 L172.00,178.36 L172.50,179.64 L173.00,180.93 L173.50,182.15 L174.00,183.25 L174.50,184.29 L175.00,185.27 L175.50,186.19 L176.00,187.03 L176.50,187.84 L177.00,188.60 L177.50,189.31 L178.00,189.95 L178.50,190.52 L179.00,191.06 L179.50,191.59 L180.00,192.10 L180.50,192.60 L181.00,193.09 L181.50,193.58 L182.00,194.06 L182.50,194.52 L183.00,194.98 L183.50,195.43 L184.00,195.87 L184.50,196.30 L185.00,196.72 L185.50,197.14 L186.00,197.55 L186.50,197.95 L187.00,198.34 L187.50,198.73 L188.00,199.10 L188.50,199.47 L189.00,199.84 L189.50,200.19 L190.00,200.54 L190.50,200.88 L191.00,201.21 L191.50,201.54 L192.00,201.86 L192.50,202.18 L193.00,202.48 L193.50,202.78 L194.00,203.07 L194.50,203.36 L195.00,203.63 L195.50,203.90 L196.00,204.16 L196.50,204.41 L197.00,204.65 L197.50,204.88 L198.00,205.12 L198.50,205.35 L199.00,205.58 L199.50,205.81 L200.00,206.04 L200.50,206.26 L201.00,206.48 L201.50,206.70 L202.00,206.91 L202.50,207.12 L203.00,207.33 L203.50,207.54 L204.00,207.74 L204.50,207.94 L205.00,208.14 L205.50,208.34 L206.00,208.54 L206.50,208.74 L207.00,208.93 L207.50,209.13 L208.00,209.33 L208.50,209.52 L209.00,209.71 L209.50,209.91 L210.00,210.10 L210.50,210.28 L211.00,210.47 L211.50,210.66 L212.00,210.84 L212.50,211.02 L213.00,211.20" stroke="#0000ff" stroke-width="1.75" stroke-dasharray="1.25 1.72"/>
<path d="M61.00,167.40 L61.50,167.42 L62.00,167.44 L62.50,167.46 L63.00,167.47 L63.50,167.49 L64.00,167.51 L64.50,167.52 L65.00,167.53 L65.50,167.54 L66.00,167.56 L66.50,167.57 L67.00,167.58 L67.50,167.59 L68.00,167.60 L68.50,167.61 L69.00,167.62 L69.50,167.62 L70.00,167.63 L70.50,167.63 L71.00,167.63 L71.50,167.63 L72.00,167.63 L72.50,167.63 L73.00,167.62 L73.50,167.62 L74.00,167.61 L74.50,167.61 L75.00,167.60 L75.50,167.59 L76.00,167.57 L76.50,167.53 L77.00,167.50 L77.50,167.45 L78.00,167.41 L78.50,167.36 L79.00,167.31 L79.50,167.25 L80.00,167.20 L80.50,167.14 L81.00,167.07 L81.50,166.98 L82.00,166.88 L82.50,166.77 L83.00,166.65 L83.50,166.53 L84.00,166.40 L84.50,166.26 L85.00,166.09 L85.50,165.89 L86.00,165.65 L86.50,165.37 L87.00,165.06 L87.50,164.70 L88.00,164.29 L88.50,163.83 L89.00,163.33 L89.50,162.79 L90.00,162.23 L90.50,161.65 L91.00,161.05 L91.50,160.44 L92.00,159.83 L92.50,159.17 L93.00,158.49 L93.50,157.80 L94.00,157.12 L94.50,156.47 L95.00,155.87 L95.50,155.38 L96.00,154.99 L96.50,154.69 L97.00,154.45 L97.50,154.27 L98.00,154.16 L98.50,154.17 L99.00,154.30 L99.50,154.57 L100.00,155.00 L100.50,155.54 L101.00,156.16 L101.50,156.85 L102.00,157.63 L102.50,158.51 L103.00,159.46 L103.50,160.41 L104.00,161.38 L104.50,162.36 L105.00,163.37 L105.50,164.40 L106.00,165.45 L106.50,166.50 L107.00,167.55 L107.50,168.60 L108.00,169.64 L108.50,170.68 L109.00,171.71 L109.50,172.70 L110.00,173.64 L110.50,174.50 L111.00,175.25 L111.50,175.92 L112.00,176.56 L112.50,177.20 L113.00,177.85 L113.50,178.49 L114.00,179.11 L114.50,179.69 L115.00,180.23 L115.50,180.72 L116.00,181.18 L116.50,181.61 L117.00,182.00 L117.50,182.37 L118.00,182.70 L118.50,183.02 L119.00,183.31 L119.50,183.58 L120.00,183.83 L120.50,184.07 L121.00,184.32 L121.50,184.56 L122.00,184.79 L122.50,185.02 L123.00,185.25 L123.50,185.47 L124.00,185.68 L124.50,185.89 L125.00,186.09 L125.50,186.29 L126.00,186.48 L126.50,186.65 L127.00,186.82 L127.50,186.98 L128.00,187.13 L128.50,187.27 L129.00,187.41 L129.50,187.55 L130.00,187.69 L130.50,187.83 L131.00,187.97 L131.50,188.10 L132.00,188.23 L132.50,188.36 L133.00,188.49 L133.50,188.62 L134.00,188.75 L134.50,188.87 L135.00,189.00 L135.50,189.12 L136.00,189.24 L136.50,189.35 L137.00,189.47 L137.50,189.59 L138.00,189.70 L138.50,189.83 L139.00,189.95 L139.50,190.07 L140.00,190.19 L140.50,190.31 L141.00,190.43 L141.50,190.55 L142.00,190.66 L142.50,190.77 L143.00,190.87 L143.50,190.97 L144.00,191.06 L144.50,191.14 L145.00,191.21 L145.50,191.28 L146.00,191.33 L146.50,191.38 L147.00,191.41 L147.50,191.43 L148.00,191.45 L148.50,191.45 L149.00,191.46 L149.50,191.46 L150.00,191.45 L150.50,191.45 L151.00,191.44 L151.50,191.43 L152.00,191.43 L152.50,191.43 L153.00,191.42 L153.50,191.41 L154.00,191.41 L154.50,191.40 L155.00,191.39 L155.50,191.38 L156.00,191.37 L156.50,191.36 L157.00,191.34 L157.50,191.33 L158.00,191.28 L158.50,191.21 L159.00,191.11 L159.50,190.98 L160.00,190.82 L160.50,190.64 L161.00,190.43 L161.50,190.20 L162.00,189.94 L162.50,189.66 L163.00,189.31 L163.50,188.88 L164.00,188.37 L164.50,187.78 L165.00,187.12 L165.50,186.37 L166.00,185.55 L166.50,184.68 L167.00,183.78 L167.50,182.88 L168.00,181.98 L168.50,181.10 L169.00,180.24 L169.50,179.38 L170.00,178.55 L170.50,177.73 L171.00,176.95 L171.50,176.29 L172.00,175.87 L172.50,175.66 L173.00,175.58 L173.50,175.59 L174.00,175.63 L174.50,175.73 L175.00,175.90 L175.50,176.16 L176.00,176.53 L176.50,177.00 L177.00,177.54 L177.50,178.14 L178.00,178.84 L178.50,179.65 L179.00,180.60 L179.50,181.63 L180.00,182.68 L180.50,183.75 L181.00,184.79 L181.50,185.80 L182.00,186.79 L182.50,187.77 L183.00,188.74 L183.50,189.70 L184.00,190.61 L184.50,191.46 L185.00,192.25 L185.50,192.98 L186.00,193.63 L186.50,194.21 L187.00,194.70 L187.50,195.14 L188.00,195.58 L188.50,196.01 L189.00,196.43 L189.50,196.84 L190.00,197.24 L190.50,197.63 L191.00,198.02 L191.50,198.39 L192.00,198.75 L192.50,199.11 L193.00,199.45 L193.50,199.78 L194.00,200.10 L194.50,200.41 L195.00,200.73 L195.50,201.04 L196.00,201.35 L196.50,201.66 L197.00,201.97 L197.50,202.28 L198.00,202.58 L198.50,202.88 L199.00,203.17 L199.50,203.46 L200.00,203.75 L200.50,204.03 L201.00,204.30 L201.50,204.57 L202.00,204.84 L202.50,205.10 L203.00,205.37 L203.50,205.63 L204.00,205.89 L204.50,206.15 L205.00,206.40 L205.50,206.65 L206.00,206.90 L206.50,207.14 L207.00,207.38 L207.50,207.62 L208.00,207.85 L208.50,208.08 L209.00,208.30 L209.50,208.52 L210.00,208.73 L210.50,208.94 L211.00,209.14 L211.50,209.34 L212.00,209.53 L212.50,209.72 L213.00,209.90" stroke="#b02234" stroke-width="1.7" stroke-dasharray="0.75 0.55"/>
</g>
<g clip-path="url(#cpd)" fill="none" stroke-linecap="butt" stroke-linejoin="round">
<path d="M213.00,168.70 L213.50,168.78 L214.00,168.86 L214.50,168.94 L215.00,169.02 L215.50,169.10 L216.00,169.18 L216.50,169.26 L217.00,169.34 L217.50,169.42 L218.00,169.50 L218.50,169.59 L219.00,169.67 L219.50,169.75 L220.00,169.83 L220.50,169.91 L221.00,169.99 L221.50,170.07 L222.00,170.16 L222.50,170.24 L223.00,170.32 L223.50,170.40 L224.00,170.48 L224.50,170.56 L225.00,170.65 L225.50,170.73 L226.00,170.82 L226.50,170.90 L227.00,170.99 L227.50,171.07 L228.00,171.16 L228.50,171.24 L229.00,171.33 L229.50,171.41 L230.00,171.50 L230.50,171.58 L231.00,171.67 L231.50,171.75 L232.00,171.84 L232.50,171.92 L233.00,172.00 L233.50,172.08 L234.00,172.16 L234.50,172.22 L235.00,172.28 L235.50,172.33 L236.00,172.37 L236.50,172.41 L237.00,172.44 L237.50,172.46 L238.00,172.48 L238.50,172.49 L239.00,172.50 L239.50,172.51 L240.00,172.51 L240.50,172.51 L241.00,172.50 L241.50,172.50 L242.00,172.49 L242.50,172.48 L243.00,172.46 L243.50,172.45 L244.00,172.43 L244.50,172.41 L245.00,172.39 L245.50,172.36 L246.00,172.32 L246.50,172.28 L247.00,172.24 L247.50,172.19 L248.00,172.13 L248.50,172.07 L249.00,172.00 L249.50,171.93 L250.00,171.85 L250.50,171.76 L251.00,171.67 L251.50,171.56 L252.00,171.45 L252.50,171.34 L253.00,171.22 L253.50,171.10 L254.00,170.97 L254.50,170.84 L255.00,170.70 L255.50,170.55 L256.00,170.39 L256.50,170.22 L257.00,170.05 L257.50,169.88 L258.00,169.70 L258.50,169.51 L259.00,169.28 L259.50,169.03 L260.00,168.73 L260.50,168.41 L261.00,168.04 L261.50,167.64 L262.00,167.19 L262.50,166.70 L263.00,166.15 L263.50,165.55 L264.00,164.90 L264.50,164.22 L265.00,163.52 L265.50,162.79 L266.00,162.05 L266.50,161.24 L267.00,160.40 L267.50,159.56 L268.00,158.76 L268.50,158.01 L269.00,157.34 L269.50,156.75 L270.00,156.21 L270.50,155.74 L271.00,155.32 L271.50,155.00 L272.00,154.79 L272.50,154.68 L273.00,154.66 L273.50,154.70 L274.00,154.81 L274.50,154.99 L275.00,155.27 L275.50,155.66 L276.00,156.18 L276.50,156.82 L277.00,157.53 L277.50,158.30 L278.00,159.14 L278.50,160.03 L279.00,160.98 L279.50,162.04 L280.00,163.14 L280.50,164.23 L281.00,165.23 L281.50,166.12 L282.00,166.92 L282.50,167.64 L283.00,168.30 L283.50,168.88 L284.00,169.40 L284.50,169.87 L285.00,170.28 L285.50,170.66 L286.00,170.98 L286.50,171.25 L287.00,171.48 L287.50,171.67 L288.00,171.81 L288.50,171.92 L289.00,172.00 L289.50,172.02 L290.00,171.97 L290.50,171.85 L291.00,171.65 L291.50,171.38 L292.00,171.05 L292.50,170.65 L293.00,170.18 L293.50,169.63 L294.00,168.98 L294.50,168.25 L295.00,167.45 L295.50,166.62 L296.00,165.78 L296.50,164.97 L297.00,164.20 L297.50,163.45 L298.00,162.73 L298.50,162.04 L299.00,161.39 L299.50,160.79 L300.00,160.33 L300.50,160.04 L301.00,159.86 L301.50,159.76 L302.00,159.70 L302.50,159.69 L303.00,159.76 L303.50,159.92 L304.00,160.16 L304.50,160.50 L305.00,160.93 L305.50,161.50 L306.00,162.26 L306.50,163.27 L307.00,164.50 L307.50,165.82 L308.00,167.16 L308.50,168.45 L309.00,169.66 L309.50,170.83 L310.00,172.01 L310.50,173.33 L311.00,174.88 L311.50,176.24 L312.00,177.40 L312.50,178.48 L313.00,179.48 L313.50,180.41 L314.00,181.26 L314.50,182.05 L315.00,182.77 L315.50,183.43 L316.00,184.07 L316.50,184.70 L317.00,185.31 L317.50,185.92 L318.00,186.51 L318.50,187.08 L319.00,187.64 L319.50,188.17 L320.00,188.67 L320.50,189.15 L321.00,189.60 L321.50,190.03 L322.00,190.46 L322.50,190.89 L323.00,191.32 L323.50,191.74 L324.00,192.15 L324.50,192.56 L325.00,192.97 L325.50,193.36 L326.00,193.75 L326.50,194.13 L327.00,194.50 L327.50,194.85 L328.00,195.20 L328.50,195.54 L329.00,195.89 L329.50,196.23 L330.00,196.57 L330.50,196.91 L331.00,197.24 L331.50,197.57 L332.00,197.88 L332.50,198.19 L333.00,198.48 L333.50,198.76 L334.00,199.03 L334.50,199.27 L335.00,199.50 L335.50,199.72 L336.00,199.93 L336.50,200.15 L337.00,200.36 L337.50,200.57 L338.00,200.79 L338.50,201.00 L339.00,201.21 L339.50,201.43 L340.00,201.64 L340.50,201.85 L341.00,202.07 L341.50,202.28 L342.00,202.50 L342.50,202.72 L343.00,202.94 L343.50,203.15 L344.00,203.37 L344.50,203.59 L345.00,203.81 L345.50,204.03 L346.00,204.25 L346.50,204.46 L347.00,204.68 L347.50,204.90 L348.00,205.12 L348.50,205.34 L349.00,205.55 L349.50,205.77 L350.00,205.98 L350.50,206.20 L351.00,206.41 L351.50,206.63 L352.00,206.84 L352.50,207.05 L353.00,207.26 L353.50,207.46 L354.00,207.67 L354.50,207.88 L355.00,208.08 L355.50,208.28 L356.00,208.49 L356.50,208.69 L357.00,208.89 L357.50,209.09 L358.00,209.28 L358.50,209.48 L359.00,209.68 L359.50,209.88 L360.00,210.07 L360.50,210.27 L361.00,210.46 L361.50,210.65 L362.00,210.85 L362.50,211.04 L363.00,211.23 L363.50,211.43 L364.00,211.62 L364.50,211.81 L365.00,212.00" stroke="#ff0000" stroke-width="1.65"/>
<path d="M213.00,168.70 L213.50,168.80 L214.00,168.91 L214.50,169.01 L215.00,169.11 L215.50,169.21 L216.00,169.31 L216.50,169.41 L217.00,169.51 L217.50,169.61 L218.00,169.70 L218.50,169.80 L219.00,169.90 L219.50,169.99 L220.00,170.09 L220.50,170.19 L221.00,170.28 L221.50,170.38 L222.00,170.47 L222.50,170.57 L223.00,170.66 L223.50,170.76 L224.00,170.85 L224.50,170.95 L225.00,171.04 L225.50,171.13 L226.00,171.22 L226.50,171.31 L227.00,171.40 L227.50,171.49 L228.00,171.58 L228.50,171.66 L229.00,171.75 L229.50,171.83 L230.00,171.91 L230.50,171.99 L231.00,172.07 L231.50,172.14 L232.00,172.22 L232.50,172.29 L233.00,172.36 L233.50,172.43 L234.00,172.49 L234.50,172.54 L235.00,172.59 L235.50,172.64 L236.00,172.68 L236.50,172.71 L237.00,172.75 L237.50,172.77 L238.00,172.80 L238.50,172.82 L239.00,172.83 L239.50,172.85 L240.00,172.86 L240.50,172.87 L241.00,172.88 L241.50,172.88 L242.00,172.89 L242.50,172.89 L243.00,172.90 L243.50,172.90 L244.00,172.90 L244.50,172.90 L245.00,172.90 L245.50,172.90 L246.00,172.89 L246.50,172.89 L247.00,172.88 L247.50,172.87 L248.00,172.86 L248.50,172.85 L249.00,172.84 L249.50,172.83 L250.00,172.81 L250.50,172.80 L251.00,172.79 L251.50,172.77 L252.00,172.76 L252.50,172.74 L253.00,172.72 L253.50,172.71 L254.00,172.69 L254.50,172.67 L255.00,172.64 L255.50,172.60 L256.00,172.56 L256.50,172.51 L257.00,172.45 L257.50,172.38 L258.00,172.30 L258.50,172.20 L259.00,172.06 L259.50,171.90 L260.00,171.71 L260.50,171.50 L261.00,171.28 L261.50,171.04 L262.00,170.80 L262.50,170.55 L263.00,170.30 L263.50,170.05 L264.00,169.79 L264.50,169.52 L265.00,169.22 L265.50,168.91 L266.00,168.58 L266.50,168.22 L267.00,167.84 L267.50,167.43 L268.00,166.97 L268.50,166.47 L269.00,165.92 L269.50,165.33 L270.00,164.71 L270.50,164.05 L271.00,163.36 L271.50,162.66 L272.00,161.93 L272.50,161.19 L273.00,160.42 L273.50,159.63 L274.00,158.80 L274.50,157.94 L275.00,157.05 L275.50,156.15 L276.00,155.25 L276.50,154.37 L277.00,153.52 L277.50,152.69 L278.00,151.89 L278.50,151.12 L279.00,150.38 L279.50,149.71 L280.00,149.19 L280.50,148.77 L281.00,148.43 L281.50,148.10 L282.00,147.80 L282.50,147.59 L283.00,147.57 L283.50,147.73 L284.00,147.89 L284.50,148.06 L285.00,148.23 L285.50,148.40 L286.00,148.57 L286.50,148.75 L287.00,148.93 L287.50,149.10 L288.00,149.26 L288.50,149.32 L289.00,149.30 L289.50,149.22 L290.00,149.11 L290.50,149.00 L291.00,148.92 L291.50,148.89 L292.00,148.94 L292.50,149.04 L293.00,149.19 L293.50,149.37 L294.00,149.60 L294.50,149.92 L295.00,150.39 L295.50,150.94 L296.00,151.58 L296.50,152.30 L297.00,153.13 L297.50,154.07 L298.00,155.14 L298.50,156.29 L299.00,157.51 L299.50,158.80 L300.00,160.18 L300.50,161.60 L301.00,163.04 L301.50,164.47 L302.00,165.88 L302.50,167.26 L303.00,168.62 L303.50,170.00 L304.00,171.63 L304.50,173.52 L305.00,175.35 L305.50,176.79 L306.00,177.76 L306.50,178.62 L307.00,179.41 L307.50,180.13 L308.00,180.79 L308.50,181.43 L309.00,182.03 L309.50,182.64 L310.00,183.24 L310.50,183.86 L311.00,184.48 L311.50,185.10 L312.00,185.71 L312.50,186.31 L313.00,186.90 L313.50,187.46 L314.00,188.00 L314.50,188.52 L315.00,189.03 L315.50,189.53 L316.00,190.03 L316.50,190.51 L317.00,190.99 L317.50,191.45 L318.00,191.90 L318.50,192.35 L319.00,192.78 L319.50,193.20 L320.00,193.61 L320.50,194.01 L321.00,194.40 L321.50,194.78 L322.00,195.15 L322.50,195.52 L323.00,195.89 L323.50,196.25 L324.00,196.60 L324.50,196.95 L325.00,197.29 L325.50,197.62 L326.00,197.95 L326.50,198.27 L327.00,198.59 L327.50,198.90 L328.00,199.20 L328.50,199.50 L329.00,199.80 L329.50,200.10 L330.00,200.39 L330.50,200.69 L331.00,200.98 L331.50,201.26 L332.00,201.54 L332.50,201.80 L333.00,202.07 L333.50,202.32 L334.00,202.56 L334.50,202.78 L335.00,203.00 L335.50,203.21 L336.00,203.41 L336.50,203.61 L337.00,203.81 L337.50,204.01 L338.00,204.21 L338.50,204.41 L339.00,204.60 L339.50,204.80 L340.00,205.00 L340.50,205.20 L341.00,205.40 L341.50,205.60 L342.00,205.80 L342.50,206.01 L343.00,206.22 L343.50,206.44 L344.00,206.65 L344.50,206.87 L345.00,207.08 L345.50,207.29 L346.00,207.48 L346.50,207.67 L347.00,207.86 L347.50,208.03 L348.00,208.19 L348.50,208.35 L349.00,208.50 L349.50,208.64 L350.00,208.78 L350.50,208.91 L351.00,209.04 L351.50,209.16 L352.00,209.29 L352.50,209.41 L353.00,209.53 L353.50,209.64 L354.00,209.76 L354.50,209.88 L355.00,210.00 L355.50,210.12 L356.00,210.24 L356.50,210.36 L357.00,210.48 L357.50,210.60 L358.00,210.72 L358.50,210.84 L359.00,210.96 L359.50,211.08 L360.00,211.19 L360.50,211.31 L361.00,211.42 L361.50,211.54 L362.00,211.65 L362.50,211.76 L363.00,211.87 L363.50,211.98 L364.00,212.09 L364.50,212.20 L365.00,212.30" stroke="#00ff00" stroke-width="1.8" stroke-dasharray="2.65 1.2"/>
<path d="M213.00,168.70 L213.50,168.80 L214.00,168.91 L214.50,169.01 L215.00,169.11 L215.50,169.21 L216.00,169.31 L216.50,169.41 L217.00,169.51 L217.50,169.61 L218.00,169.70 L218.50,169.80 L219.00,169.90 L219.50,169.99 L220.00,170.09 L220.50,170.19 L221.00,170.28 L221.50,170.38 L222.00,170.47 L222.50,170.57 L223.00,170.66 L223.50,170.76 L224.00,170.85 L224.50,170.95 L225.00,171.04 L225.50,171.14 L226.00,171.23 L226.50,171.32 L227.00,171.41 L227.50,171.50 L228.00,171.59 L228.50,171.68 L229.00,171.76 L229.50,171.84 L230.00,171.93 L230.50,172.00 L231.00,172.08 L231.50,172.16 L232.00,172.23 L232.50,172.30 L233.00,172.36 L233.50,172.42 L234.00,172.48 L234.50,172.54 L235.00,172.58 L235.50,172.63 L236.00,172.67 L236.50,172.70 L237.00,172.73 L237.50,172.76 L238.00,172.78 L238.50,172.80 L239.00,172.82 L239.50,172.84 L240.00,172.85 L240.50,172.86 L241.00,172.87 L241.50,172.88 L242.00,172.89 L242.50,172.89 L243.00,172.90 L243.50,172.90 L244.00,172.90 L244.50,172.91 L245.00,172.91 L245.50,172.91 L246.00,172.91 L246.50,172.91 L247.00,172.92 L247.50,172.92 L248.00,172.92 L248.50,172.92 L249.00,172.91 L249.50,172.91 L250.00,172.91 L250.50,172.91 L251.00,172.91 L251.50,172.91 L252.00,172.91 L252.50,172.90 L253.00,172.90 L253.50,172.90 L254.00,172.90 L254.50,172.89 L255.00,172.89 L255.50,172.88 L256.00,172.87 L256.50,172.86 L257.00,172.84 L257.50,172.82 L258.00,172.80 L258.50,172.76 L259.00,172.70 L259.50,172.62 L260.00,172.52 L260.50,172.40 L261.00,172.26 L261.50,172.11 L262.00,171.96 L262.50,171.79 L263.00,171.62 L263.50,171.44 L264.00,171.27 L264.50,171.09 L265.00,170.90 L265.50,170.70 L266.00,170.47 L266.50,170.23 L267.00,169.97 L267.50,169.69 L268.00,169.39 L268.50,169.07 L269.00,168.71 L269.50,168.32 L270.00,167.89 L270.50,167.45 L271.00,166.98 L271.50,166.50 L272.00,166.00 L272.50,165.49 L273.00,164.95 L273.50,164.39 L274.00,163.80 L274.50,163.17 L275.00,162.50 L275.50,161.78 L276.00,161.01 L276.50,160.20 L277.00,159.35 L277.50,158.48 L278.00,157.57 L278.50,156.62 L279.00,155.63 L279.50,154.61 L280.00,153.58 L280.50,152.45 L281.00,151.07 L281.50,149.25 L282.00,147.09 L282.50,144.91 L283.00,142.90 L283.50,140.96 L284.00,139.14 L284.50,137.59 L285.00,136.42 L285.50,135.51 L286.00,134.77 L286.50,134.17 L287.00,133.72 L287.50,133.43 L288.00,133.30 L288.50,133.39 L289.00,133.66 L289.50,134.06 L290.00,134.66 L290.50,135.42 L291.00,136.33 L291.50,137.53 L292.00,139.16 L292.50,141.08 L293.00,143.09 L293.50,145.15 L294.00,147.25 L294.50,149.56 L295.00,152.17 L295.50,154.04 L296.00,155.69 L296.50,157.30 L297.00,158.99 L297.50,160.75 L298.00,162.50 L298.50,164.13 L299.00,165.52 L299.50,166.74 L300.00,167.84 L300.50,168.92 L301.00,170.00 L301.50,171.04 L302.00,171.99 L302.50,172.80 L303.00,173.50 L303.50,174.18 L304.00,174.84 L304.50,175.50 L305.00,176.17 L305.50,176.86 L306.00,177.57 L306.50,178.28 L307.00,179.00 L307.50,179.73 L308.00,180.45 L308.50,181.17 L309.00,181.88 L309.50,182.58 L310.00,183.27 L310.50,183.94 L311.00,184.58 L311.50,185.19 L312.00,185.79 L312.50,186.37 L313.00,186.93 L313.50,187.47 L314.00,188.00 L314.50,188.52 L315.00,189.03 L315.50,189.53 L316.00,190.03 L316.50,190.51 L317.00,190.99 L317.50,191.45 L318.00,191.90 L318.50,192.35 L319.00,192.78 L319.50,193.20 L320.00,193.61 L320.50,194.01 L321.00,194.40 L321.50,194.78 L322.00,195.15 L322.50,195.52 L323.00,195.89 L323.50,196.25 L324.00,196.60 L324.50,196.95 L325.00,197.29 L325.50,197.62 L326.00,197.95 L326.50,198.27 L327.00,198.59 L327.50,198.90 L328.00,199.20 L328.50,199.50 L329.00,199.80 L329.50,200.10 L330.00,200.39 L330.50,200.69 L331.00,200.98 L331.50,201.26 L332.00,201.54 L332.50,201.80 L333.00,202.07 L333.50,202.32 L334.00,202.56 L334.50,202.78 L335.00,203.00 L335.50,203.21 L336.00,203.41 L336.50,203.61 L337.00,203.81 L337.50,204.01 L338.00,204.21 L338.50,204.41 L339.00,204.60 L339.50,204.80 L340.00,205.00 L340.50,205.20 L341.00,205.40 L341.50,205.60 L342.00,205.80 L342.50,206.01 L343.00,206.22 L343.50,206.44 L344.00,206.65 L344.50,206.87 L345.00,207.08 L345.50,207.29 L346.00,207.48 L346.50,207.67 L347.00,207.86 L347.50,208.03 L348.00,208.19 L348.50,208.35 L349.00,208.50 L349.50,208.64 L350.00,208.78 L350.50,208.91 L351.00,209.04 L351.50,209.16 L352.00,209.29 L352.50,209.41 L353.00,209.53 L353.50,209.64 L354.00,209.76 L354.50,209.88 L355.00,210.00 L355.50,210.12 L356.00,210.24 L356.50,210.36 L357.00,210.48 L357.50,210.60 L358.00,210.72 L358.50,210.84 L359.00,210.96 L359.50,211.08 L360.00,211.19 L360.50,211.31 L361.00,211.42 L361.50,211.54 L362.00,211.65 L362.50,211.76 L363.00,211.87 L363.50,211.98 L364.00,212.09 L364.50,212.20 L365.00,212.30" stroke="#0000ff" stroke-width="1.75" stroke-dasharray="1.25 1.72"/>
<path d="M213.00,168.70 L213.50,168.80 L214.00,168.91 L214.50,169.01 L215.00,169.11 L215.50,169.21 L216.00,169.31 L216.50,169.41 L217.00,169.51 L217.50,169.61 L218.00,169.70 L218.50,169.80 L219.00,169.90 L219.50,169.99 L220.00,170.09 L220.50,170.19 L221.00,170.28 L221.50,170.38 L222.00,170.47 L222.50,170.57 L223.00,170.66 L223.50,170.76 L224.00,170.85 L224.50,170.95 L225.00,171.04 L225.50,171.13 L226.00,171.22 L226.50,171.31 L227.00,171.40 L227.50,171.49 L228.00,171.58 L228.50,171.66 L229.00,171.74 L229.50,171.83 L230.00,171.91 L230.50,171.99 L231.00,172.06 L231.50,172.14 L232.00,172.22 L232.50,172.29 L233.00,172.36 L233.50,172.43 L234.00,172.49 L234.50,172.55 L235.00,172.60 L235.50,172.64 L236.00,172.68 L236.50,172.72 L237.00,172.75 L237.50,172.78 L238.00,172.80 L238.50,172.82 L239.00,172.84 L239.50,172.86 L240.00,172.87 L240.50,172.88 L241.00,172.88 L241.50,172.89 L242.00,172.89 L242.50,172.90 L243.00,172.90 L243.50,172.90 L244.00,172.90 L244.50,172.90 L245.00,172.90 L245.50,172.89 L246.00,172.88 L246.50,172.87 L247.00,172.86 L247.50,172.85 L248.00,172.83 L248.50,172.82 L249.00,172.80 L249.50,172.78 L250.00,172.76 L250.50,172.74 L251.00,172.72 L251.50,172.70 L252.00,172.68 L252.50,172.66 L253.00,172.63 L253.50,172.61 L254.00,172.58 L254.50,172.55 L255.00,172.52 L255.50,172.47 L256.00,172.41 L256.50,172.35 L257.00,172.28 L257.50,172.19 L258.00,172.10 L258.50,171.98 L259.00,171.84 L259.50,171.66 L260.00,171.47 L260.50,171.25 L261.00,171.02 L261.50,170.77 L262.00,170.52 L262.50,170.26 L263.00,170.00 L263.50,169.74 L264.00,169.47 L264.50,169.19 L265.00,168.88 L265.50,168.56 L266.00,168.21 L266.50,167.85 L267.00,167.45 L267.50,167.03 L268.00,166.56 L268.50,166.05 L269.00,165.49 L269.50,164.89 L270.00,164.25 L270.50,163.57 L271.00,162.85 L271.50,162.11 L272.00,161.35 L272.50,160.58 L273.00,159.80 L273.50,159.01 L274.00,158.20 L274.50,157.37 L275.00,156.52 L275.50,155.66 L276.00,154.80 L276.50,153.96 L277.00,153.17 L277.50,152.46 L278.00,151.81 L278.50,151.19 L279.00,150.60 L279.50,150.04 L280.00,149.59 L280.50,149.34 L281.00,149.40 L281.50,149.67 L282.00,150.02 L282.50,150.41 L283.00,150.85 L283.50,151.31 L284.00,151.79 L284.50,152.29 L285.00,152.81 L285.50,153.32 L286.00,153.82 L286.50,154.29 L287.00,154.76 L287.50,155.19 L288.00,155.56 L288.50,155.84 L289.00,156.00 L289.50,156.05 L290.00,156.05 L290.50,156.00 L291.00,155.92 L291.50,155.82 L292.00,155.72 L292.50,155.61 L293.00,155.49 L293.50,155.34 L294.00,155.20 L294.50,155.06 L295.00,154.94 L295.50,154.87 L296.00,154.95 L296.50,155.17 L297.00,155.50 L297.50,155.98 L298.00,156.66 L298.50,157.58 L299.00,158.70 L299.50,159.85 L300.00,161.02 L300.50,162.22 L301.00,163.41 L301.50,164.62 L302.00,165.85 L302.50,167.17 L303.00,168.57 L303.50,170.00 L304.00,171.65 L304.50,173.53 L305.00,175.35 L305.50,176.79 L306.00,177.76 L306.50,178.62 L307.00,179.41 L307.50,180.13 L308.00,180.79 L308.50,181.43 L309.00,182.03 L309.50,182.64 L310.00,183.24 L310.50,183.86 L311.00,184.48 L311.50,185.10 L312.00,185.71 L312.50,186.31 L313.00,186.90 L313.50,187.46 L314.00,188.00 L314.50,188.52 L315.00,189.03 L315.50,189.53 L316.00,190.03 L316.50,190.51 L317.00,190.99 L317.50,191.45 L318.00,191.90 L318.50,192.35 L319.00,192.78 L319.50,193.20 L320.00,193.61 L320.50,194.01 L321.00,194.40 L321.50,194.78 L322.00,195.15 L322.50,195.52 L323.00,195.89 L323.50,196.25 L324.00,196.60 L324.50,196.95 L325.00,197.29 L325.50,197.62 L326.00,197.95 L326.50,198.27 L327.00,198.59 L327.50,198.90 L328.00,199.20 L328.50,199.50 L329.00,199.80 L329.50,200.10 L330.00,200.39 L330.50,200.69 L331.00,200.98 L331.50,201.26 L332.00,201.54 L332.50,201.80 L333.00,202.07 L333.50,202.32 L334.00,202.56 L334.50,202.78 L335.00,203.00 L335.50,203.21 L336.00,203.41 L336.50,203.61 L337.00,203.81 L337.50,204.01 L338.00,204.21 L338.50,204.41 L339.00,204.60 L339.50,204.80 L340.00,205.00 L340.50,205.20 L341.00,205.40 L341.50,205.60 L342.00,205.80 L342.50,206.01 L343.00,206.22 L343.50,206.44 L344.00,206.65 L344.50,206.87 L345.00,207.08 L345.50,207.29 L346.00,207.48 L346.50,207.67 L347.00,207.86 L347.50,208.03 L348.00,208.19 L348.50,208.35 L349.00,208.50 L349.50,208.64 L350.00,208.78 L350.50,208.91 L351.00,209.04 L351.50,209.16 L352.00,209.29 L352.50,209.41 L353.00,209.53 L353.50,209.64 L354.00,209.76 L354.50,209.88 L355.00,210.00 L355.50,210.12 L356.00,210.24 L356.50,210.36 L357.00,210.48 L357.50,210.60 L358.00,210.72 L358.50,210.84 L359.00,210.96 L359.50,211.08 L360.00,211.19 L360.50,211.31 L361.00,211.42 L361.50,211.54 L362.00,211.65 L362.50,211.76 L363.00,211.87 L363.50,211.98 L364.00,212.09 L364.50,212.20 L365.00,212.30" stroke="#b02234" stroke-width="1.7" stroke-dasharray="0.75 0.55"/>
</g>
<path d="M193.3,17.6 L202.4,17.6" fill="none" stroke="#ff0000" stroke-width="1.65"/>
<path d="M193.3,29.6 L202.4,29.6" fill="none" stroke="#00ff00" stroke-width="1.8" stroke-dasharray="2.65 1.2"/>
<path d="M193.3,41.5 L202.4,41.5" fill="none" stroke="#0000ff" stroke-width="1.75" stroke-dasharray="1.25 1.72"/>
<path d="M193.3,53.4 L202.4,53.4" fill="none" stroke="#b02234" stroke-width="1.7" stroke-dasharray="0.75 0.55"/>
<path d="M264.8,71.1 L274.0,71.1" fill="none" stroke="#ff0000" stroke-width="1.65"/>
<path d="M264.8,83.0 L274.0,83.0" fill="none" stroke="#00ff00" stroke-width="1.8" stroke-dasharray="2.65 1.2"/>
<path d="M264.8,94.9 L274.0,94.9" fill="none" stroke="#0000ff" stroke-width="1.75" stroke-dasharray="1.25 1.72"/>
<path d="M264.8,106.8 L274.0,106.8" fill="none" stroke="#b02234" stroke-width="1.7" stroke-dasharray="0.75 0.55"/>
<path d="M110.4,183.2 L119.0,183.2" fill="none" stroke="#ff0000" stroke-width="1.65"/>
<path d="M110.4,195.2 L119.0,195.2" fill="none" stroke="#00ff00" stroke-width="1.8" stroke-dasharray="2.65 1.2"/>
<path d="M110.4,207.2 L119.0,207.2" fill="none" stroke="#0000ff" stroke-width="1.75" stroke-dasharray="1.25 1.72"/>
<path d="M110.4,219.2 L119.0,219.2" fill="none" stroke="#b02234" stroke-width="1.7" stroke-dasharray="0.75 0.55"/>
<path d="M264.8,183.0 L274.0,183.0" fill="none" stroke="#ff0000" stroke-width="1.65"/>
<path d="M264.8,195.1 L274.0,195.1" fill="none" stroke="#00ff00" stroke-width="1.8" stroke-dasharray="2.65 1.2"/>
<path d="M264.8,207.0 L274.0,207.0" fill="none" stroke="#0000ff" stroke-width="1.75" stroke-dasharray="1.25 1.72"/>
<path d="M264.8,219.1 L274.0,219.1" fill="none" stroke="#b02234" stroke-width="1.7" stroke-dasharray="0.75 0.55"/>
<g fill="none" stroke="#000" stroke-width="1"><rect x="60.8" y="10.65" width="304.2" height="216.79999999999998"/><path d="M212.8,10.65 V227.45 M60.8,119.0 H365.0"/><path d="M98.80,10.65 v3.8 M98.80,115.2 v7.6 M98.80,227.45 v-3.8 M136.80,10.65 v3.8 M136.80,115.2 v7.6 M136.80,227.45 v-3.8 M174.80,10.65 v3.8 M174.80,115.2 v7.6 M174.80,227.45 v-3.8 M250.85,10.65 v3.8 M250.85,115.2 v7.6 M250.85,227.45 v-3.8 M288.90,10.65 v3.8 M288.90,115.2 v7.6 M288.90,227.45 v-3.8 M326.95,10.65 v3.8 M326.95,115.2 v7.6 M326.95,227.45 v-3.8 M60.8,46.77 h3.8 M209.0,46.77 h7.6 M365.0,46.77 h-3.8 M60.8,82.88 h3.8 M209.0,82.88 h7.6 M365.0,82.88 h-3.8 M60.8,155.15 h3.8 M209.0,155.15 h7.6 M365.0,155.15 h-3.8 M60.8,191.30 h3.8 M209.0,191.30 h7.6 M365.0,191.30 h-3.8"/></g>
<g fill="#000" stroke="#000" stroke-width="0.1" style="font-family:'Liberation Serif',serif;text-rendering:geometricPrecision;will-change:transform"><text x="53.3" y="14.65" text-anchor="end" style="font-size:12px" >0.2</text><text x="53.3" y="50.766666666666666" text-anchor="end" style="font-size:12px" >0.15</text><text x="53.3" y="86.88333333333334" text-anchor="end" style="font-size:12px" >0.1</text><text x="53.3" y="123.0" text-anchor="end" style="font-size:12px" >0.05</text><text x="53.3" y="159.15" text-anchor="end" style="font-size:12px" >0.15</text><text x="53.3" y="195.3" text-anchor="end" style="font-size:12px" >0.1</text><text x="53.3" y="231.45" text-anchor="end" style="font-size:12px" >0.05</text><text x="60.8" y="243.8" text-anchor="middle" style="font-size:12px" >-0.5</text><text x="98.8" y="243.8" text-anchor="middle" style="font-size:12px" >-0.25</text><text x="136.8" y="243.8" text-anchor="middle" style="font-size:12px" >0</text><text x="174.8" y="243.8" text-anchor="middle" style="font-size:12px" >0.25</text><text x="212.8" y="243.8" text-anchor="middle" style="font-size:12px" >-0.5</text><text x="250.85000000000002" y="243.8" text-anchor="middle" style="font-size:12px" >-0.25</text><text x="288.9" y="243.8" text-anchor="middle" style="font-size:12px" >0</text><text x="326.95" y="243.8" text-anchor="middle" style="font-size:12px" >0.25</text><text x="365.0" y="243.8" text-anchor="middle" style="font-size:12px" >0.5</text><text x="137.6" y="262" text-anchor="middle" style="font-style:italic;font-size:12px" letter-spacing="0.8">V/&#915;</text><text x="289.6" y="262" text-anchor="middle" style="font-style:italic;font-size:12px" letter-spacing="0.8">V/&#915;</text><text transform="translate(17,64.825) rotate(-90)" text-anchor="middle" style="font-style:italic;font-size:12px">dI/dV(2e<tspan dx="2" dy="-5.5" style="font-size:9.6px">2</tspan><tspan dx="0.5" dy="5.5">/h)</tspan></text><text transform="translate(17,173.225) rotate(-90)" text-anchor="middle" style="font-style:italic;font-size:12px">dI/dV(2e<tspan dx="2" dy="-5.5" style="font-size:9.6px">2</tspan><tspan dx="0.5" dy="5.5">/h)</tspan></text><text x="68.5" y="28.7" text-anchor="start" style="font-size:12px" >(a)</text><text x="220.5" y="28.7" text-anchor="start" style="font-size:12px" >(b)</text><text x="68.5" y="137.4" text-anchor="start" style="font-size:12px" >(c)</text><text x="220.5" y="137.4" text-anchor="start" style="font-size:12px" >(d)</text><text x="69" y="108.9" text-anchor="start" style="font-style:italic;font-size:12px" >Q=0</text><text x="316.8" y="36.4" text-anchor="start" style="font-style:italic;font-size:12px" >P=0</text><text x="164.4" y="144.8" text-anchor="start" style="font-style:italic;font-size:12px" >P=0.2</text><text x="316.4" y="145" text-anchor="start" style="font-style:italic;font-size:12px" >P=-0.18</text><text x="186" y="21.6" text-anchor="end" style="font-style:italic;font-size:12px" >P=0.00</text><text x="186" y="33.6" text-anchor="end" style="font-style:italic;font-size:12px" >=0.25</text><text x="186" y="45.5" text-anchor="end" style="font-style:italic;font-size:12px" >=0.50</text><text x="186" y="57.4" text-anchor="end" style="font-style:italic;font-size:12px" >=0.75</text><text x="257.7" y="75.1" text-anchor="end" style="font-style:italic;font-size:12px" >Q=0.00</text><text x="257.7" y="87.0" text-anchor="end" style="font-style:italic;font-size:12px" >=0.25</text><text x="257.7" y="98.9" text-anchor="end" style="font-style:italic;font-size:12px" >=0.50</text><text x="257.7" y="110.8" text-anchor="end" style="font-style:italic;font-size:12px" >=0.75</text><text x="102.8" y="187.2" text-anchor="end" style="font-style:italic;font-size:12px" >Q=0.00</text><text x="102.8" y="199.2" text-anchor="end" style="font-style:italic;font-size:12px" >=0.25</text><text x="102.8" y="211.2" text-anchor="end" style="font-style:italic;font-size:12px" >=0.50</text><text x="102.8" y="223.2" text-anchor="end" style="font-style:italic;font-size:12px" >=0.75</text><text x="257.7" y="187.2" text-anchor="end" style="font-style:italic;font-size:12px" >Q=0.00</text><text x="257.7" y="199.2" text-anchor="end" style="font-style:italic;font-size:12px" >=0.25</text><text x="257.7" y="211.1" text-anchor="end" style="font-style:italic;font-size:12px" >=0.50</text><text x="257.7" y="223.1" text-anchor="end" style="font-style:italic;font-size:12px" >=0.75</text></g>
</svg>
</body></html>
